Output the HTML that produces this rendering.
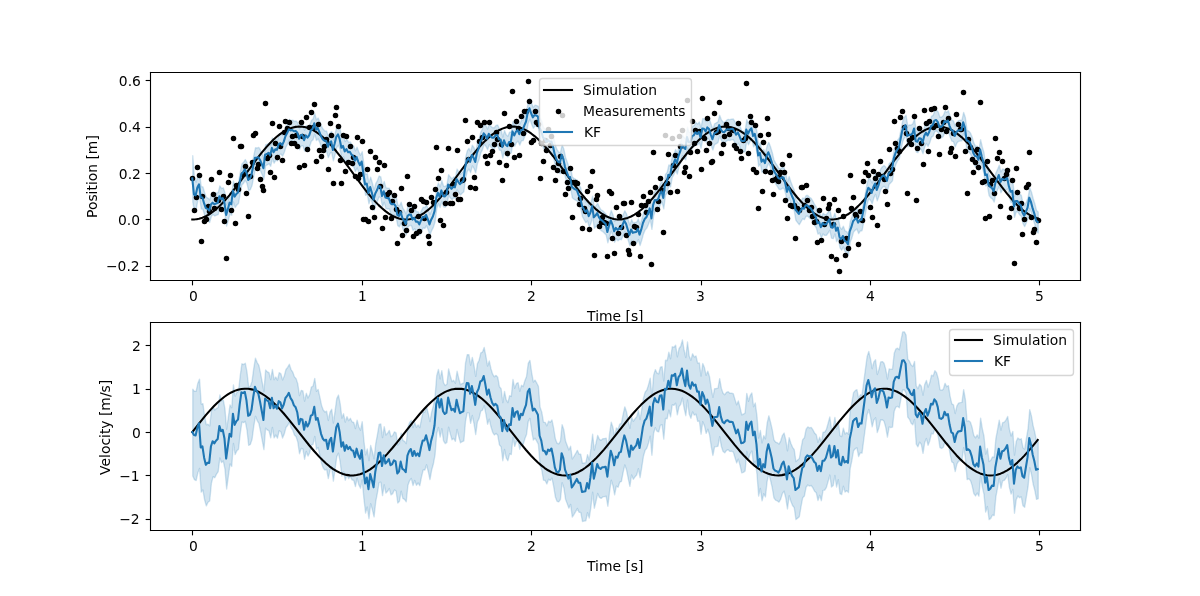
<!DOCTYPE html>
<html><head><meta charset="utf-8"><title>KF</title>
<style>html,body{margin:0;padding:0;background:#fff}svg{display:block;will-change:transform}</style></head>
<body>
<svg width="1200" height="596" viewBox="0 0 1200 596">
 
 <defs>
  <style type="text/css">*{stroke-linejoin: round; stroke-linecap: butt}</style>
 </defs>
 <g id="figure_1">
  <g id="patch_1">
   <path d="M 0 596 L 1200 596 L 1200 0 L 0 0 z
" style="fill: #ffffff"/>
  </g>
  <g id="axes_1">
   <g id="patch_2">
    <path d="M 150 280.12 L 1080 280.12 L 1080 71.52 L 150 71.52 z
" style="fill: #ffffff"/>
   </g>
   <g id="FillBetweenPolyCollection_1">
    
    <g clip-path="url(#pb499dece62)">
     <path d="M 192.27 -440.71 L 192.27 -394.28 L 193.96 -385.01 L 195.66 -386.96 L 197.35 -396.16 L 199.04 -400.08 L 200.74 -387.44 L 202.43 -387.27 L 204.13 -381.33 L 205.82 -376.69 L 207.52 -375.84 L 209.21 -374.07 L 210.91 -380.18 L 212.60 -382.02 L 214.29 -380.50 L 215.99 -381.33 L 217.68 -381.83 L 219.38 -388.68 L 221.07 -386.15 L 222.77 -387.01 L 224.46 -382.30 L 226.15 -370.32 L 227.85 -376.20 L 229.54 -382.75 L 231.24 -381.14 L 232.93 -394.56 L 234.63 -388.91 L 236.32 -391.50 L 238.01 -393.07 L 239.71 -402.92 L 241.40 -411.58 L 243.10 -413.31 L 244.79 -416.17 L 246.49 -413.07 L 248.18 -405.60 L 249.87 -407.05 L 251.57 -411.05 L 253.26 -419.94 L 254.96 -427.91 L 256.65 -427.76 L 258.35 -428.30 L 260.04 -425.57 L 261.73 -421.74 L 263.43 -417.37 L 265.12 -430.90 L 266.82 -431.58 L 268.51 -432.76 L 270.21 -430.23 L 271.90 -437.71 L 273.59 -433.33 L 275.29 -436.22 L 276.98 -435.77 L 278.68 -441.52 L 280.37 -442.52 L 282.07 -440.40 L 283.76 -444.02 L 285.45 -449.40 L 287.15 -452.48 L 288.84 -456.28 L 290.54 -455.23 L 292.23 -455.55 L 293.93 -454.33 L 295.62 -454.68 L 297.31 -452.81 L 299.01 -446.86 L 300.70 -450.45 L 302.40 -450.83 L 304.09 -445.34 L 305.79 -450.18 L 307.48 -447.92 L 309.17 -450.25 L 310.87 -455.27 L 312.56 -456.65 L 314.26 -462.31 L 315.95 -455.91 L 317.65 -457.64 L 319.34 -453.79 L 321.03 -449.25 L 322.73 -446.35 L 324.42 -444.77 L 326.12 -444.81 L 327.81 -438.86 L 329.51 -442.96 L 331.20 -444.21 L 332.89 -435.63 L 334.59 -441.87 L 336.28 -448.86 L 337.98 -451.23 L 339.67 -446.52 L 341.37 -437.80 L 343.06 -439.66 L 344.75 -434.10 L 346.45 -436.41 L 348.14 -433.31 L 349.84 -433.78 L 351.53 -430.90 L 353.23 -429.61 L 354.92 -424.85 L 356.61 -428.58 L 358.31 -423.74 L 360.00 -420.41 L 361.70 -424.04 L 363.39 -411.83 L 365.09 -401.18 L 366.78 -402.03 L 368.47 -392.59 L 370.17 -398.62 L 371.86 -392.73 L 373.56 -385.82 L 375.25 -392.03 L 376.95 -395.24 L 378.64 -399.64 L 380.33 -398.79 L 382.03 -389.60 L 383.72 -394.27 L 385.42 -388.05 L 387.11 -387.46 L 388.81 -387.50 L 390.50 -382.30 L 392.19 -381.26 L 393.89 -381.74 L 395.58 -379.59 L 397.28 -370.82 L 398.97 -369.70 L 400.67 -373.58 L 402.36 -367.64 L 404.05 -365.08 L 405.75 -361.65 L 407.44 -369.45 L 409.14 -370.94 L 410.83 -371.16 L 412.53 -366.01 L 414.22 -367.79 L 415.92 -363.91 L 417.61 -364.03 L 419.30 -361.29 L 421.00 -365.28 L 422.69 -368.58 L 424.39 -368.10 L 426.08 -370.78 L 427.78 -366.48 L 429.47 -361.18 L 431.16 -365.90 L 432.86 -369.13 L 434.55 -374.50 L 436.25 -387.67 L 437.94 -392.79 L 439.64 -388.88 L 441.33 -395.19 L 443.02 -389.67 L 444.72 -389.14 L 446.41 -390.86 L 448.11 -401.01 L 449.80 -398.78 L 451.50 -396.78 L 453.19 -398.77 L 454.88 -398.26 L 456.58 -406.52 L 458.27 -403.82 L 459.97 -401.51 L 461.66 -403.16 L 463.36 -404.72 L 465.05 -417.75 L 466.74 -424.92 L 468.44 -427.45 L 470.13 -423.80 L 471.83 -430.50 L 473.52 -428.04 L 475.22 -423.60 L 476.91 -432.72 L 478.60 -436.91 L 480.30 -443.59 L 481.99 -446.82 L 483.69 -452.30 L 485.38 -450.20 L 487.08 -446.70 L 488.77 -451.76 L 490.46 -449.40 L 492.16 -447.99 L 493.85 -447.97 L 495.55 -450.28 L 497.24 -450.67 L 498.94 -446.34 L 500.63 -446.04 L 502.32 -438.52 L 504.02 -445.29 L 505.71 -440.92 L 507.41 -439.47 L 509.10 -443.63 L 510.80 -443.60 L 512.49 -454.17 L 514.18 -450.15 L 515.88 -453.77 L 517.57 -455.39 L 519.27 -451.38 L 520.96 -455.59 L 522.66 -455.84 L 524.35 -460.23 L 526.04 -464.05 L 527.74 -473.34 L 529.43 -477.27 L 531.13 -472.36 L 532.82 -468.27 L 534.52 -470.55 L 536.21 -470.10 L 537.90 -469.23 L 539.60 -457.57 L 541.29 -454.41 L 542.99 -448.00 L 544.68 -446.82 L 546.38 -443.71 L 548.07 -445.37 L 549.76 -443.73 L 551.46 -444.14 L 553.15 -438.30 L 554.85 -430.62 L 556.54 -426.06 L 558.24 -423.61 L 559.93 -423.01 L 561.62 -430.93 L 563.32 -426.80 L 565.01 -418.56 L 566.71 -413.86 L 568.40 -408.90 L 570.10 -408.67 L 571.79 -398.79 L 573.48 -397.35 L 575.18 -396.29 L 576.87 -395.47 L 578.57 -390.66 L 580.26 -387.89 L 581.96 -379.74 L 583.65 -376.75 L 585.34 -373.76 L 587.04 -375.45 L 588.73 -369.47 L 590.43 -373.12 L 592.12 -379.49 L 593.82 -368.30 L 595.51 -369.99 L 597.20 -372.51 L 598.90 -368.48 L 600.59 -365.95 L 602.29 -364.89 L 603.98 -363.13 L 605.68 -361.50 L 607.37 -353.68 L 609.06 -360.02 L 610.76 -365.25 L 612.45 -361.01 L 614.15 -354.27 L 615.84 -357.70 L 617.54 -355.67 L 619.23 -357.33 L 620.93 -356.74 L 622.62 -361.05 L 624.31 -364.96 L 626.01 -361.88 L 627.70 -356.26 L 629.40 -350.60 L 631.09 -356.09 L 632.79 -352.77 L 634.48 -353.30 L 636.17 -353.63 L 637.87 -356.74 L 639.56 -350.99 L 641.26 -356.18 L 642.95 -362.61 L 644.65 -366.52 L 646.34 -368.38 L 648.03 -372.19 L 649.73 -377.23 L 651.42 -367.16 L 653.12 -380.69 L 654.81 -385.55 L 656.51 -385.25 L 658.20 -386.49 L 659.89 -392.00 L 661.59 -394.29 L 663.28 -387.68 L 664.98 -401.30 L 666.67 -403.41 L 668.37 -410.80 L 670.06 -409.57 L 671.75 -419.14 L 673.45 -421.95 L 675.14 -426.14 L 676.84 -422.35 L 678.53 -429.78 L 680.23 -434.10 L 681.92 -440.95 L 683.61 -438.16 L 685.31 -436.61 L 687.00 -448.44 L 688.70 -443.33 L 690.39 -443.35 L 692.09 -449.50 L 693.78 -450.24 L 695.47 -453.31 L 697.17 -451.60 L 698.86 -453.84 L 700.56 -448.15 L 702.25 -457.14 L 703.95 -456.88 L 705.64 -454.16 L 707.33 -458.16 L 709.03 -456.52 L 710.72 -451.10 L 712.42 -446.41 L 714.11 -451.92 L 715.81 -452.87 L 717.50 -453.88 L 719.19 -460.43 L 720.89 -455.89 L 722.58 -453.74 L 724.28 -453.44 L 725.97 -455.37 L 727.67 -456.37 L 729.36 -456.01 L 731.05 -456.63 L 732.75 -456.83 L 734.44 -454.01 L 736.14 -450.94 L 737.83 -453.16 L 739.53 -449.49 L 741.22 -444.85 L 742.91 -444.53 L 744.61 -444.78 L 746.30 -456.01 L 748.00 -451.76 L 749.69 -455.40 L 751.39 -457.33 L 753.08 -449.64 L 754.77 -451.68 L 756.47 -444.01 L 758.16 -430.08 L 759.86 -432.80 L 761.55 -423.90 L 763.25 -426.12 L 764.94 -422.49 L 766.63 -429.93 L 768.33 -433.35 L 770.02 -428.87 L 771.72 -423.47 L 773.41 -415.94 L 775.11 -412.61 L 776.80 -410.13 L 778.49 -407.27 L 780.19 -406.88 L 781.88 -408.20 L 783.58 -407.96 L 785.27 -402.23 L 786.97 -393.77 L 788.66 -399.13 L 790.35 -393.98 L 792.05 -389.37 L 793.74 -385.69 L 795.44 -376.08 L 797.13 -373.84 L 798.83 -371.71 L 800.52 -374.82 L 802.21 -377.73 L 803.91 -376.85 L 805.60 -380.22 L 807.30 -380.20 L 808.99 -378.34 L 810.69 -377.34 L 812.38 -374.67 L 814.07 -371.24 L 815.77 -368.73 L 817.46 -362.44 L 819.16 -363.47 L 820.85 -358.42 L 822.55 -362.55 L 824.24 -361.11 L 825.94 -361.26 L 827.63 -363.51 L 829.32 -366.21 L 831.02 -358.31 L 832.71 -357.83 L 834.41 -362.59 L 836.10 -354.88 L 837.80 -358.00 L 839.49 -348.60 L 841.18 -346.34 L 842.88 -349.57 L 844.57 -344.78 L 846.27 -344.01 L 847.96 -341.39 L 849.66 -353.97 L 851.35 -358.38 L 853.04 -364.39 L 854.74 -366.22 L 856.43 -367.47 L 858.13 -362.95 L 859.82 -365.45 L 861.52 -365.78 L 863.21 -373.94 L 864.90 -382.70 L 866.60 -392.16 L 868.29 -397.82 L 869.99 -396.23 L 871.68 -392.66 L 873.38 -398.58 L 875.07 -402.13 L 876.76 -395.63 L 878.46 -400.14 L 880.15 -406.55 L 881.85 -408.94 L 883.54 -410.20 L 885.24 -408.71 L 886.93 -404.74 L 888.62 -412.08 L 890.32 -413.68 L 892.01 -415.74 L 893.71 -427.01 L 895.40 -432.27 L 897.10 -435.63 L 898.79 -437.72 L 900.48 -446.17 L 902.18 -454.66 L 903.87 -458.53 L 905.57 -460.41 L 907.26 -449.69 L 908.96 -450.77 L 910.65 -450.71 L 912.34 -451.87 L 914.04 -457.00 L 915.73 -444.49 L 917.43 -443.80 L 919.12 -447.30 L 920.82 -447.11 L 922.51 -442.66 L 924.20 -449.55 L 925.90 -452.95 L 927.59 -450.18 L 929.29 -453.80 L 930.98 -459.35 L 932.68 -460.40 L 934.37 -464.97 L 936.06 -465.52 L 937.76 -463.69 L 939.45 -458.42 L 941.15 -458.71 L 942.84 -460.15 L 944.54 -464.46 L 946.23 -463.44 L 947.92 -465.02 L 949.62 -459.58 L 951.31 -455.45 L 953.01 -454.77 L 954.70 -449.58 L 956.40 -453.56 L 958.09 -455.15 L 959.78 -455.42 L 961.48 -455.65 L 963.17 -463.37 L 964.87 -458.19 L 966.56 -445.21 L 968.26 -444.72 L 969.95 -442.83 L 971.64 -438.69 L 973.34 -432.62 L 975.03 -429.52 L 976.73 -429.42 L 978.42 -425.86 L 980.12 -436.00 L 981.81 -428.83 L 983.50 -422.96 L 985.20 -410.54 L 986.89 -411.20 L 988.59 -400.96 L 990.28 -398.62 L 991.98 -397.56 L 993.67 -394.38 L 995.36 -402.73 L 997.06 -406.29 L 998.75 -410.58 L 1000.45 -403.72 L 1002.14 -406.72 L 1003.84 -406.05 L 1005.53 -406.39 L 1007.22 -407.54 L 1008.92 -399.18 L 1010.61 -393.80 L 1012.31 -394.81 L 1014.00 -379.07 L 1015.70 -384.51 L 1017.39 -384.64 L 1019.08 -381.78 L 1020.78 -380.34 L 1022.47 -373.12 L 1024.17 -369.86 L 1025.86 -373.68 L 1027.56 -377.86 L 1029.25 -387.93 L 1030.95 -383.71 L 1032.64 -377.17 L 1034.33 -372.04 L 1036.03 -365.18 L 1037.72 -363.59 L 1037.72 -384.38 L 1037.72 -384.38 L 1036.03 -385.97 L 1034.33 -392.83 L 1032.64 -397.96 L 1030.95 -404.50 L 1029.25 -408.72 L 1027.56 -398.65 L 1025.86 -394.46 L 1024.17 -390.65 L 1022.47 -393.91 L 1020.78 -401.13 L 1019.08 -402.56 L 1017.39 -405.42 L 1015.70 -405.30 L 1014.00 -399.86 L 1012.31 -415.60 L 1010.61 -414.58 L 1008.92 -419.97 L 1007.22 -428.33 L 1005.53 -427.18 L 1003.84 -426.84 L 1002.14 -427.51 L 1000.45 -424.51 L 998.75 -431.37 L 997.06 -427.08 L 995.36 -423.52 L 993.67 -415.16 L 991.98 -418.35 L 990.28 -419.41 L 988.59 -421.75 L 986.89 -431.99 L 985.20 -431.33 L 983.50 -443.75 L 981.81 -449.61 L 980.12 -456.79 L 978.42 -446.64 L 976.73 -450.21 L 975.03 -450.31 L 973.34 -453.40 L 971.64 -459.48 L 969.95 -463.61 L 968.26 -465.51 L 966.56 -466.00 L 964.87 -478.97 L 963.17 -484.16 L 961.48 -476.44 L 959.78 -476.21 L 958.09 -475.94 L 956.40 -474.34 L 954.70 -470.36 L 953.01 -475.56 L 951.31 -476.24 L 949.62 -480.37 L 947.92 -485.81 L 946.23 -484.23 L 944.54 -485.24 L 942.84 -480.94 L 941.15 -479.49 L 939.45 -479.21 L 937.76 -484.48 L 936.06 -486.31 L 934.37 -485.76 L 932.68 -481.19 L 930.98 -480.14 L 929.29 -474.58 L 927.59 -470.97 L 925.90 -473.74 L 924.20 -470.34 L 922.51 -463.45 L 920.82 -467.90 L 919.12 -468.09 L 917.43 -464.59 L 915.73 -465.27 L 914.04 -477.79 L 912.34 -472.66 L 910.65 -471.50 L 908.96 -471.56 L 907.26 -470.47 L 905.57 -481.20 L 903.87 -479.32 L 902.18 -475.44 L 900.48 -466.95 L 898.79 -458.51 L 897.10 -456.42 L 895.40 -453.06 L 893.71 -447.80 L 892.01 -436.53 L 890.32 -434.46 L 888.62 -432.87 L 886.93 -425.53 L 885.24 -429.50 L 883.54 -430.99 L 881.85 -429.73 L 880.15 -427.33 L 878.46 -420.92 L 876.76 -416.42 L 875.07 -422.92 L 873.38 -419.37 L 871.68 -413.45 L 869.99 -417.02 L 868.29 -418.61 L 866.60 -412.95 L 864.90 -403.49 L 863.21 -394.73 L 861.52 -386.57 L 859.82 -386.24 L 858.13 -383.73 L 856.43 -388.26 L 854.74 -387.01 L 853.04 -385.17 L 851.35 -379.17 L 849.66 -374.76 L 847.96 -362.18 L 846.27 -364.80 L 844.57 -365.57 L 842.88 -370.36 L 841.18 -367.13 L 839.49 -369.39 L 837.80 -378.78 L 836.10 -375.67 L 834.41 -383.38 L 832.71 -378.62 L 831.02 -379.10 L 829.32 -387.00 L 827.63 -384.29 L 825.94 -382.05 L 824.24 -381.90 L 822.55 -383.34 L 820.85 -379.21 L 819.16 -384.25 L 817.46 -383.23 L 815.77 -389.52 L 814.07 -392.03 L 812.38 -395.46 L 810.69 -398.13 L 808.99 -399.13 L 807.30 -400.99 L 805.60 -401.00 L 803.91 -397.64 L 802.21 -398.52 L 800.52 -395.60 L 798.83 -392.50 L 797.13 -394.63 L 795.44 -396.87 L 793.74 -406.47 L 792.05 -410.16 L 790.35 -414.77 L 788.66 -419.92 L 786.97 -414.56 L 785.27 -423.02 L 783.58 -428.75 L 781.88 -428.99 L 780.19 -427.67 L 778.49 -428.06 L 776.80 -430.92 L 775.11 -433.40 L 773.41 -436.73 L 771.72 -444.26 L 770.02 -449.66 L 768.33 -454.13 L 766.63 -450.72 L 764.94 -443.28 L 763.25 -446.91 L 761.55 -444.69 L 759.86 -453.59 L 758.16 -450.87 L 756.47 -464.80 L 754.77 -472.47 L 753.08 -470.43 L 751.39 -478.12 L 749.69 -476.19 L 748.00 -472.55 L 746.30 -476.80 L 744.61 -465.57 L 742.91 -465.32 L 741.22 -465.64 L 739.53 -470.28 L 737.83 -473.95 L 736.14 -471.73 L 734.44 -474.80 L 732.75 -477.62 L 731.05 -477.42 L 729.36 -476.80 L 727.67 -477.16 L 725.97 -476.16 L 724.28 -474.23 L 722.58 -474.53 L 720.89 -476.68 L 719.19 -481.22 L 717.50 -474.67 L 715.81 -473.66 L 714.11 -472.71 L 712.42 -467.20 L 710.72 -471.89 L 709.03 -477.30 L 707.33 -478.95 L 705.64 -474.95 L 703.95 -477.67 L 702.25 -477.93 L 700.56 -468.94 L 698.86 -474.62 L 697.17 -472.38 L 695.47 -474.10 L 693.78 -471.03 L 692.09 -470.29 L 690.39 -464.14 L 688.70 -464.12 L 687.00 -469.23 L 685.31 -457.40 L 683.61 -458.95 L 681.92 -461.74 L 680.23 -454.89 L 678.53 -450.57 L 676.84 -443.14 L 675.14 -446.93 L 673.45 -442.74 L 671.75 -439.93 L 670.06 -430.36 L 668.37 -431.59 L 666.67 -424.19 L 664.98 -422.09 L 663.28 -408.47 L 661.59 -415.08 L 659.89 -412.79 L 658.20 -407.28 L 656.51 -406.04 L 654.81 -406.34 L 653.12 -401.47 L 651.42 -387.95 L 649.73 -398.02 L 648.03 -392.98 L 646.34 -389.16 L 644.65 -387.31 L 642.95 -383.40 L 641.26 -376.97 L 639.56 -371.78 L 637.87 -377.53 L 636.17 -374.42 L 634.48 -374.09 L 632.79 -373.56 L 631.09 -376.88 L 629.40 -371.38 L 627.70 -377.05 L 626.01 -382.67 L 624.31 -385.75 L 622.62 -381.84 L 620.93 -377.53 L 619.23 -378.12 L 617.54 -376.46 L 615.84 -378.48 L 614.15 -375.06 L 612.45 -381.80 L 610.76 -386.03 L 609.06 -380.80 L 607.37 -374.46 L 605.68 -382.28 L 603.98 -383.92 L 602.29 -385.68 L 600.59 -386.74 L 598.90 -389.27 L 597.20 -393.30 L 595.51 -390.78 L 593.82 -389.09 L 592.12 -400.28 L 590.43 -393.91 L 588.73 -390.26 L 587.04 -396.24 L 585.34 -394.54 L 583.65 -397.54 L 581.96 -400.52 L 580.26 -408.68 L 578.57 -411.45 L 576.87 -416.26 L 575.18 -417.07 L 573.48 -418.13 L 571.79 -419.57 L 570.10 -429.46 L 568.40 -429.69 L 566.71 -434.65 L 565.01 -439.35 L 563.32 -447.58 L 561.62 -451.72 L 559.93 -443.80 L 558.24 -444.40 L 556.54 -446.85 L 554.85 -451.41 L 553.15 -459.09 L 551.46 -464.93 L 549.76 -464.52 L 548.07 -466.16 L 546.38 -464.50 L 544.68 -467.61 L 542.99 -468.79 L 541.29 -475.20 L 539.60 -478.36 L 537.90 -490.02 L 536.21 -490.88 L 534.52 -491.34 L 532.82 -489.06 L 531.13 -493.15 L 529.43 -498.06 L 527.74 -494.13 L 526.04 -484.84 L 524.35 -481.01 L 522.66 -476.62 L 520.96 -476.37 L 519.27 -472.17 L 517.57 -476.18 L 515.88 -474.56 L 514.18 -470.93 L 512.49 -474.96 L 510.80 -464.38 L 509.10 -464.41 L 507.41 -460.26 L 505.71 -461.71 L 504.02 -466.08 L 502.32 -459.30 L 500.63 -466.83 L 498.94 -467.13 L 497.24 -471.45 L 495.55 -471.07 L 493.85 -468.76 L 492.16 -468.78 L 490.46 -470.19 L 488.77 -472.55 L 487.08 -467.48 L 485.38 -470.98 L 483.69 -473.09 L 481.99 -467.61 L 480.30 -464.38 L 478.60 -457.70 L 476.91 -453.51 L 475.22 -444.39 L 473.52 -448.83 L 471.83 -451.29 L 470.13 -444.58 L 468.44 -448.24 L 466.74 -445.71 L 465.05 -438.54 L 463.36 -425.51 L 461.66 -423.95 L 459.97 -422.30 L 458.27 -424.61 L 456.58 -427.30 L 454.88 -419.05 L 453.19 -419.56 L 451.50 -417.57 L 449.80 -419.57 L 448.11 -421.80 L 446.41 -411.64 L 444.72 -409.93 L 443.02 -410.46 L 441.33 -415.98 L 439.64 -409.67 L 437.94 -413.58 L 436.25 -408.46 L 434.55 -395.28 L 432.86 -389.92 L 431.16 -386.69 L 429.47 -381.97 L 427.78 -387.27 L 426.08 -391.57 L 424.39 -388.89 L 422.69 -389.37 L 421.00 -386.06 L 419.30 -382.08 L 417.61 -384.82 L 415.92 -384.70 L 414.22 -388.58 L 412.53 -386.80 L 410.83 -391.94 L 409.14 -391.73 L 407.44 -390.23 L 405.75 -382.44 L 404.05 -385.87 L 402.36 -388.43 L 400.67 -394.37 L 398.97 -390.49 L 397.28 -391.61 L 395.58 -400.37 L 393.89 -402.52 L 392.19 -402.04 L 390.50 -403.09 L 388.81 -408.28 L 387.11 -408.25 L 385.42 -408.84 L 383.72 -415.06 L 382.03 -410.38 L 380.33 -419.58 L 378.64 -420.43 L 376.95 -416.03 L 375.25 -412.82 L 373.56 -406.61 L 371.86 -413.52 L 370.17 -419.41 L 368.47 -413.37 L 366.78 -422.82 L 365.09 -421.96 L 363.39 -432.61 L 361.70 -444.83 L 360.00 -441.20 L 358.31 -444.53 L 356.61 -449.37 L 354.92 -445.64 L 353.23 -450.40 L 351.53 -451.69 L 349.84 -454.57 L 348.14 -454.10 L 346.45 -457.20 L 344.75 -454.89 L 343.06 -460.45 L 341.37 -458.59 L 339.67 -467.30 L 337.98 -472.01 L 336.28 -469.65 L 334.59 -462.66 L 332.89 -456.42 L 331.20 -465.00 L 329.51 -463.75 L 327.81 -459.65 L 326.12 -465.60 L 324.42 -465.56 L 322.73 -467.14 L 321.03 -470.04 L 319.34 -474.58 L 317.65 -478.43 L 315.95 -476.70 L 314.26 -483.10 L 312.56 -477.44 L 310.87 -476.06 L 309.17 -471.04 L 307.48 -468.71 L 305.79 -470.97 L 304.09 -466.13 L 302.40 -471.62 L 300.70 -471.24 L 299.01 -467.65 L 297.31 -473.60 L 295.62 -475.47 L 293.93 -475.12 L 292.23 -476.33 L 290.54 -476.02 L 288.84 -477.07 L 287.15 -473.27 L 285.45 -470.19 L 283.76 -464.80 L 282.07 -461.18 L 280.37 -463.31 L 278.68 -462.31 L 276.98 -456.56 L 275.29 -457.01 L 273.59 -454.12 L 271.90 -458.50 L 270.21 -451.02 L 268.51 -453.55 L 266.82 -452.37 L 265.12 -451.69 L 263.43 -438.16 L 261.73 -442.53 L 260.04 -446.36 L 258.35 -449.09 L 256.65 -448.55 L 254.96 -448.70 L 253.26 -440.73 L 251.57 -431.85 L 249.87 -427.85 L 248.18 -426.40 L 246.49 -433.89 L 244.79 -437.00 L 243.10 -434.15 L 241.40 -432.44 L 239.71 -423.80 L 238.01 -413.98 L 236.32 -412.45 L 234.63 -409.90 L 232.93 -415.61 L 231.24 -402.26 L 229.54 -403.95 L 227.85 -397.49 L 226.15 -391.72 L 224.46 -403.82 L 222.77 -408.66 L 221.07 -407.95 L 219.38 -410.63 L 217.68 -403.93 L 215.99 -403.57 L 214.29 -402.89 L 212.60 -404.51 L 210.91 -402.75 L 209.21 -396.66 L 207.52 -398.39 L 205.82 -399.15 L 204.13 -403.70 L 202.43 -409.60 L 200.74 -409.95 L 199.04 -423.22 L 197.35 -420.74 L 195.66 -414.37 L 193.96 -418.00 L 192.27 -440.71 z" transform="translate(0.5 596.5)" style="stroke: #1f77b4;stroke-opacity: 0.2;stroke-width: 1.38;fill: #1f77b4;fill-opacity: 0.2"/>
    </g>
   </g>
   <g id="matplotlib.axis_1">
    <g id="xtick_1">
     <g id="line2d_1">
      
      <g>
       <path d="M 0 0 L 0 4.86" transform="translate(192.5 280.5)" style="stroke: #000000;stroke-width: 1.11"/>
      </g>
     </g>
     <g id="text_1">
      <text style="font-size: 13.88px; font-family: 'DejaVu Sans', 'Liberation Sans', sans-serif; text-anchor: middle" x="192.27" y="300.84" transform="translate(1.20 0.09) rotate(-0 192.27 300.84)">0</text>
     </g>
    </g>
    <g id="xtick_2">
     <g id="line2d_2">
      <g>
       <path d="M 0 0 L 0 4.86" transform="translate(362.5 280.5)" style="stroke: #000000;stroke-width: 1.11"/>
      </g>
     </g>
     <g id="text_2">
      <text style="font-size: 13.88px; font-family: 'DejaVu Sans', 'Liberation Sans', sans-serif; text-anchor: middle" x="361.70" y="300.84" transform="translate(0.80 -0.01) rotate(-0 361.70 300.84)">1</text>
     </g>
    </g>
    <g id="xtick_3">
     <g id="line2d_3">
      <g>
       <path d="M 0 0 L 0 4.86" transform="translate(531.5 280.5)" style="stroke: #000000;stroke-width: 1.11"/>
      </g>
     </g>
     <g id="text_3">
      <text style="font-size: 13.88px; font-family: 'DejaVu Sans', 'Liberation Sans', sans-serif; text-anchor: middle" x="531.13" y="300.84" transform="translate(0.21 -0.01) rotate(-0 531.13 300.84)">2</text>
     </g>
    </g>
    <g id="xtick_4">
     <g id="line2d_4">
      <g>
       <path d="M 0 0 L 0 4.86" transform="translate(701.5 280.5)" style="stroke: #000000;stroke-width: 1.11"/>
      </g>
     </g>
     <g id="text_4">
      <text style="font-size: 13.88px; font-family: 'DejaVu Sans', 'Liberation Sans', sans-serif; text-anchor: middle" x="700.56" y="300.84" transform="translate(-0.18 -0.03) rotate(-0 700.56 300.84)">3</text>
     </g>
    </g>
    <g id="xtick_5">
     <g id="line2d_5">
      <g>
       <path d="M 0 0 L 0 4.86" transform="translate(870.5 280.5)" style="stroke: #000000;stroke-width: 1.11"/>
      </g>
     </g>
     <g id="text_5">
      <text style="font-size: 13.88px; font-family: 'DejaVu Sans', 'Liberation Sans', sans-serif; text-anchor: middle" x="869.99" y="300.84" transform="translate(0.50 -0.06) rotate(-0 869.99 300.84)">4</text>
     </g>
    </g>
    <g id="xtick_6">
     <g id="line2d_6">
      <g>
       <path d="M 0 0 L 0 4.86" transform="translate(1039.5 280.5)" style="stroke: #000000;stroke-width: 1.11"/>
      </g>
     </g>
     <g id="text_6">
      <text style="font-size: 13.88px; font-family: 'DejaVu Sans', 'Liberation Sans', sans-serif; text-anchor: middle" x="1039.42" y="300.84" transform="translate(-0.02 0.07) rotate(-0 1039.42 300.84)">5</text>
     </g>
    </g>
    <g id="text_7">
     <text style="font-size: 13.88px; font-family: 'DejaVu Sans', 'Liberation Sans', sans-serif; text-anchor: middle" x="615" y="320.39" transform="translate(0.32 0.75) rotate(-0 615 320.39)">Time [s]</text>
    </g>
   </g>
   <g id="matplotlib.axis_2">
    <g id="ytick_1">
     <g id="line2d_7">
      
      <g>
       <path d="M 0 0 L -4.86 0" transform="translate(150.5 266.5)" style="stroke: #000000;stroke-width: 1.11"/>
      </g>
     </g>
     <g id="text_8">
      <text style="font-size: 13.88px; font-family: 'DejaVu Sans', 'Liberation Sans', sans-serif; text-anchor: end" x="140.27" y="271.38" transform="translate(-0.64 0.04) rotate(-0 140.27 271.38)">−0.2</text>
     </g>
    </g>
    <g id="ytick_2">
     <g id="line2d_8">
      <g>
       <path d="M 0 0 L -4.86 0" transform="translate(150.5 219.5)" style="stroke: #000000;stroke-width: 1.11"/>
      </g>
     </g>
     <g id="text_9">
      <text style="font-size: 13.88px; font-family: 'DejaVu Sans', 'Liberation Sans', sans-serif; text-anchor: end" x="140.27" y="224.95" transform="translate(-0.27 0.09) rotate(-0 140.27 224.95)">0.0</text>
     </g>
    </g>
    <g id="ytick_3">
     <g id="line2d_9">
      <g>
       <path d="M 0 0 L -4.86 0" transform="translate(150.5 173.5)" style="stroke: #000000;stroke-width: 1.11"/>
      </g>
     </g>
     <g id="text_10">
      <text style="font-size: 13.88px; font-family: 'DejaVu Sans', 'Liberation Sans', sans-serif; text-anchor: end" x="140.27" y="178.52" transform="translate(0.65 0.05) rotate(-0 140.27 178.52)">0.2</text>
     </g>
    </g>
    <g id="ytick_4">
     <g id="line2d_10">
      <g>
       <path d="M 0 0 L -4.86 0" transform="translate(150.5 127.5)" style="stroke: #000000;stroke-width: 1.11"/>
      </g>
     </g>
     <g id="text_11">
      <text style="font-size: 13.88px; font-family: 'DejaVu Sans', 'Liberation Sans', sans-serif; text-anchor: end" x="140.27" y="132.08" transform="translate(0.68 0.02) rotate(-0 140.27 132.08)">0.4</text>
     </g>
    </g>
    <g id="ytick_5">
     <g id="line2d_11">
      <g>
       <path d="M 0 0 L -4.86 0" transform="translate(150.5 80.5)" style="stroke: #000000;stroke-width: 1.11"/>
      </g>
     </g>
     <g id="text_12">
      <text style="font-size: 13.88px; font-family: 'DejaVu Sans', 'Liberation Sans', sans-serif; text-anchor: end" x="140.27" y="85.65" transform="translate(0.61 0.10) rotate(-0 140.27 85.65)">0.6</text>
     </g>
    </g>
    <g id="text_13">
     <text style="font-size: 13.88px; font-family: 'DejaVu Sans', 'Liberation Sans', sans-serif; text-anchor: middle" x="98.22" y="175.82" transform="translate(-0.95 0.77) rotate(-90 98.22 175.82)">Position [m]</text>
    </g>
   </g>
   <g id="line2d_12">
    <path d="M 192.27 219.45 L 193.96 219.45 L 195.66 219.33 L 197.35 219.10 L 199.04 218.75 L 202.43 217.72 L 205.82 216.24 L 209.21 214.32 L 212.60 211.99 L 215.99 209.28 L 219.38 206.20 L 222.77 202.79 L 226.15 199.08 L 229.54 195.11 L 234.63 188.75 L 241.40 179.76 L 256.65 159.10 L 261.73 152.63 L 266.82 146.62 L 270.21 142.94 L 273.59 139.55 L 276.98 136.51 L 280.37 133.82 L 283.76 131.53 L 287.15 129.65 L 290.54 128.21 L 293.93 127.21 L 295.62 126.88 L 297.31 126.67 L 299.01 126.58 L 300.70 126.60 L 302.40 126.73 L 304.09 126.98 L 305.79 127.35 L 309.17 128.43 L 312.56 129.95 L 315.95 131.90 L 319.34 134.26 L 322.73 137.01 L 326.12 140.12 L 329.51 143.56 L 332.89 147.29 L 336.28 151.28 L 341.37 157.66 L 348.14 166.68 L 363.39 187.32 L 368.47 193.77 L 371.86 197.81 L 375.25 201.61 L 378.64 205.12 L 382.03 208.31 L 385.42 211.15 L 388.81 213.61 L 392.19 215.66 L 395.58 217.28 L 398.97 218.47 L 400.67 218.89 L 402.36 219.20 L 404.05 219.39 L 405.75 219.46 L 407.44 219.42 L 409.14 219.27 L 410.83 218.99 L 414.22 218.10 L 417.61 216.77 L 421.00 214.99 L 424.39 212.79 L 427.78 210.20 L 431.16 207.24 L 434.55 203.93 L 437.94 200.31 L 441.33 196.43 L 446.41 190.17 L 451.50 183.52 L 459.97 172.00 L 468.44 160.54 L 473.52 154.00 L 478.60 147.88 L 481.99 144.10 L 485.38 140.62 L 488.77 137.46 L 492.16 134.65 L 495.55 132.23 L 498.94 130.22 L 502.32 128.63 L 505.71 127.48 L 507.41 127.08 L 509.10 126.80 L 510.80 126.63 L 512.49 126.57 L 514.18 126.63 L 515.88 126.81 L 517.57 127.10 L 520.96 128.03 L 524.35 129.41 L 527.74 131.22 L 531.13 133.45 L 534.52 136.08 L 537.90 139.07 L 541.29 142.41 L 544.68 146.05 L 548.07 149.96 L 553.15 156.24 L 558.24 162.91 L 568.40 176.76 L 575.18 185.88 L 580.26 192.41 L 585.34 198.50 L 588.73 202.25 L 592.12 205.70 L 595.51 208.83 L 598.90 211.61 L 602.29 214.00 L 605.68 215.97 L 609.06 217.52 L 612.45 218.63 L 614.15 219.01 L 615.84 219.28 L 617.54 219.43 L 619.23 219.46 L 620.93 219.38 L 622.62 219.18 L 624.31 218.87 L 627.70 217.90 L 631.09 216.49 L 634.48 214.64 L 637.87 212.37 L 641.26 209.71 L 644.65 206.68 L 648.03 203.32 L 651.42 199.65 L 654.81 195.72 L 659.89 189.41 L 664.98 182.73 L 675.14 168.87 L 681.92 159.76 L 687.00 153.26 L 692.09 147.20 L 695.47 143.47 L 698.86 140.04 L 702.25 136.94 L 705.64 134.20 L 709.03 131.85 L 712.42 129.91 L 715.81 128.40 L 719.19 127.33 L 720.89 126.97 L 722.58 126.72 L 724.28 126.59 L 725.97 126.58 L 727.67 126.68 L 729.36 126.90 L 731.05 127.23 L 734.44 128.24 L 737.83 129.69 L 741.22 131.58 L 744.61 133.88 L 748.00 136.57 L 751.39 139.63 L 754.77 143.02 L 758.16 146.71 L 761.55 150.67 L 766.63 157.00 L 771.72 163.70 L 792.05 191.02 L 797.13 197.22 L 800.52 201.06 L 803.91 204.61 L 807.30 207.85 L 810.69 210.75 L 814.07 213.26 L 817.46 215.38 L 820.85 217.07 L 824.24 218.32 L 827.63 219.11 L 829.32 219.34 L 831.02 219.45 L 832.71 219.45 L 834.41 219.32 L 836.10 219.09 L 837.80 218.73 L 841.18 217.69 L 844.57 216.19 L 847.96 214.27 L 851.35 211.93 L 854.74 209.21 L 858.13 206.12 L 861.52 202.70 L 864.90 198.98 L 868.29 195.01 L 873.38 188.65 L 880.15 179.65 L 895.40 158.99 L 900.48 152.53 L 905.57 146.53 L 908.96 142.85 L 912.34 139.48 L 915.73 136.44 L 919.12 133.76 L 922.51 131.48 L 925.90 129.61 L 929.29 128.18 L 932.68 127.19 L 934.37 126.87 L 936.06 126.66 L 937.76 126.57 L 939.45 126.60 L 941.15 126.74 L 942.84 127.00 L 944.54 127.37 L 947.92 128.46 L 951.31 129.99 L 954.70 131.95 L 958.09 134.32 L 961.48 137.08 L 964.87 140.20 L 968.26 143.65 L 971.64 147.39 L 975.03 151.38 L 980.12 157.77 L 986.89 166.79 L 1002.14 187.43 L 1007.22 193.87 L 1010.61 197.91 L 1014.00 201.70 L 1017.39 205.20 L 1020.78 208.39 L 1024.17 211.21 L 1027.56 213.66 L 1030.95 215.70 L 1034.33 217.32 L 1037.72 218.49 L 1037.72 218.49 
" clip-path="url(#pb499dece62)" style="fill: none; stroke: #000000; stroke-width: 2.08; stroke-linecap: square"/>
   </g>
   <g id="line2d_13">
    
    <g clip-path="url(#pb499dece62)">
     <circle cx="192.5" cy="178.5" r="2.75"/>
     <circle cx="194.5" cy="210.5" r="2.75"/>
     <circle cx="196.5" cy="197.5" r="2.75"/>
     <circle cx="197.5" cy="167.5" r="2.75"/>
     <circle cx="199.5" cy="175.5" r="2.75"/>
     <circle cx="201.5" cy="241.5" r="2.75"/>
     <circle cx="202.5" cy="196.5" r="2.75"/>
     <circle cx="204.5" cy="221.5" r="2.75"/>
     <circle cx="206.5" cy="219.5" r="2.75"/>
     <circle cx="208.5" cy="206.5" r="2.75"/>
     <circle cx="209.5" cy="211.5" r="2.75"/>
     <circle cx="211.5" cy="179.5" r="2.75"/>
     <circle cx="213.5" cy="194.5" r="2.75"/>
     <circle cx="214.5" cy="208.5" r="2.75"/>
     <circle cx="216.5" cy="199.5" r="2.75"/>
     <circle cx="218.5" cy="200.5" r="2.75"/>
     <circle cx="219.5" cy="172.5" r="2.75"/>
     <circle cx="221.5" cy="209.5" r="2.75"/>
     <circle cx="223.5" cy="196.5" r="2.75"/>
     <circle cx="224.5" cy="221.5" r="2.75"/>
     <circle cx="226.5" cy="258.5" r="2.75"/>
     <circle cx="228.5" cy="182.5" r="2.75"/>
     <circle cx="230.5" cy="175.5" r="2.75"/>
     <circle cx="231.5" cy="210.5" r="2.75"/>
     <circle cx="233.5" cy="138.5" r="2.75"/>
     <circle cx="235.5" cy="223.5" r="2.75"/>
     <circle cx="236.5" cy="185.5" r="2.75"/>
     <circle cx="238.5" cy="189.5" r="2.75"/>
     <circle cx="240.5" cy="146.5" r="2.75"/>
     <circle cx="241.5" cy="146.5" r="2.75"/>
     <circle cx="243.5" cy="174.5" r="2.75"/>
     <circle cx="245.5" cy="166.5" r="2.75"/>
     <circle cx="246.5" cy="193.5" r="2.75"/>
     <circle cx="248.5" cy="216.5" r="2.75"/>
     <circle cx="250.5" cy="176.5" r="2.75"/>
     <circle cx="252.5" cy="162.5" r="2.75"/>
     <circle cx="253.5" cy="135.5" r="2.75"/>
     <circle cx="255.5" cy="133.5" r="2.75"/>
     <circle cx="257.5" cy="168.5" r="2.75"/>
     <circle cx="258.5" cy="164.5" r="2.75"/>
     <circle cx="260.5" cy="179.5" r="2.75"/>
     <circle cx="262.5" cy="186.5" r="2.75"/>
     <circle cx="263.5" cy="190.5" r="2.75"/>
     <circle cx="265.5" cy="103.5" r="2.75"/>
     <circle cx="267.5" cy="158.5" r="2.75"/>
     <circle cx="269.5" cy="155.5" r="2.75"/>
     <circle cx="270.5" cy="172.5" r="2.75"/>
     <circle cx="272.5" cy="123.5" r="2.75"/>
     <circle cx="274.5" cy="177.5" r="2.75"/>
     <circle cx="275.5" cy="143.5" r="2.75"/>
     <circle cx="277.5" cy="157.5" r="2.75"/>
     <circle cx="279.5" cy="126.5" r="2.75"/>
     <circle cx="280.5" cy="146.5" r="2.75"/>
     <circle cx="282.5" cy="160.5" r="2.75"/>
     <circle cx="284.5" cy="132.5" r="2.75"/>
     <circle cx="285.5" cy="121.5" r="2.75"/>
     <circle cx="287.5" cy="128.5" r="2.75"/>
     <circle cx="289.5" cy="122.5" r="2.75"/>
     <circle cx="291.5" cy="143.5" r="2.75"/>
     <circle cx="292.5" cy="136.5" r="2.75"/>
     <circle cx="294.5" cy="143.5" r="2.75"/>
     <circle cx="296.5" cy="135.5" r="2.75"/>
     <circle cx="297.5" cy="146.5" r="2.75"/>
     <circle cx="299.5" cy="167.5" r="2.75"/>
     <circle cx="301.5" cy="122.5" r="2.75"/>
     <circle cx="302.5" cy="136.5" r="2.75"/>
     <circle cx="304.5" cy="165.5" r="2.75"/>
     <circle cx="306.5" cy="117.5" r="2.75"/>
     <circle cx="307.5" cy="149.5" r="2.75"/>
     <circle cx="309.5" cy="127.5" r="2.75"/>
     <circle cx="311.5" cy="112.5" r="2.75"/>
     <circle cx="313.5" cy="127.5" r="2.75"/>
     <circle cx="314.5" cy="104.5" r="2.75"/>
     <circle cx="316.5" cy="161.5" r="2.75"/>
     <circle cx="318.5" cy="124.5" r="2.75"/>
     <circle cx="319.5" cy="150.5" r="2.75"/>
     <circle cx="321.5" cy="156.5" r="2.75"/>
     <circle cx="323.5" cy="150.5" r="2.75"/>
     <circle cx="324.5" cy="146.5" r="2.75"/>
     <circle cx="326.5" cy="139.5" r="2.75"/>
     <circle cx="328.5" cy="169.5" r="2.75"/>
     <circle cx="330.5" cy="123.5" r="2.75"/>
     <circle cx="331.5" cy="135.5" r="2.75"/>
     <circle cx="333.5" cy="183.5" r="2.75"/>
     <circle cx="335.5" cy="115.5" r="2.75"/>
     <circle cx="336.5" cy="107.5" r="2.75"/>
     <circle cx="338.5" cy="126.5" r="2.75"/>
     <circle cx="340.5" cy="160.5" r="2.75"/>
     <circle cx="341.5" cy="183.5" r="2.75"/>
     <circle cx="343.5" cy="135.5" r="2.75"/>
     <circle cx="345.5" cy="171.5" r="2.75"/>
     <circle cx="346.5" cy="136.5" r="2.75"/>
     <circle cx="348.5" cy="162.5" r="2.75"/>
     <circle cx="350.5" cy="146.5" r="2.75"/>
     <circle cx="352.5" cy="163.5" r="2.75"/>
     <circle cx="353.5" cy="157.5" r="2.75"/>
     <circle cx="355.5" cy="176.5" r="2.75"/>
     <circle cx="357.5" cy="137.5" r="2.75"/>
     <circle cx="358.5" cy="178.5" r="2.75"/>
     <circle cx="360.5" cy="174.5" r="2.75"/>
     <circle cx="362.5" cy="141.5" r="2.75"/>
     <circle cx="363.5" cy="219.5" r="2.75"/>
     <circle cx="365.5" cy="219.5" r="2.75"/>
     <circle cx="367.5" cy="169.5" r="2.75"/>
     <circle cx="368.5" cy="221.5" r="2.75"/>
     <circle cx="370.5" cy="151.5" r="2.75"/>
     <circle cx="372.5" cy="207.5" r="2.75"/>
     <circle cx="374.5" cy="217.5" r="2.75"/>
     <circle cx="375.5" cy="157.5" r="2.75"/>
     <circle cx="377.5" cy="169.5" r="2.75"/>
     <circle cx="379.5" cy="162.5" r="2.75"/>
     <circle cx="380.5" cy="186.5" r="2.75"/>
     <circle cx="382.5" cy="228.5" r="2.75"/>
     <circle cx="384.5" cy="165.5" r="2.75"/>
     <circle cx="385.5" cy="217.5" r="2.75"/>
     <circle cx="387.5" cy="194.5" r="2.75"/>
     <circle cx="389.5" cy="192.5" r="2.75"/>
     <circle cx="391.5" cy="218.5" r="2.75"/>
     <circle cx="392.5" cy="201.5" r="2.75"/>
     <circle cx="394.5" cy="195.5" r="2.75"/>
     <circle cx="396.5" cy="209.5" r="2.75"/>
     <circle cx="397.5" cy="243.5" r="2.75"/>
     <circle cx="399.5" cy="212.5" r="2.75"/>
     <circle cx="401.5" cy="188.5" r="2.75"/>
     <circle cx="402.5" cy="235.5" r="2.75"/>
     <circle cx="404.5" cy="223.5" r="2.75"/>
     <circle cx="406.5" cy="230.5" r="2.75"/>
     <circle cx="407.5" cy="176.5" r="2.75"/>
     <circle cx="409.5" cy="204.5" r="2.75"/>
     <circle cx="411.5" cy="210.5" r="2.75"/>
     <circle cx="413.5" cy="236.5" r="2.75"/>
     <circle cx="414.5" cy="206.5" r="2.75"/>
     <circle cx="416.5" cy="233.5" r="2.75"/>
     <circle cx="418.5" cy="216.5" r="2.75"/>
     <circle cx="419.5" cy="231.5" r="2.75"/>
     <circle cx="421.5" cy="199.5" r="2.75"/>
     <circle cx="423.5" cy="201.5" r="2.75"/>
     <circle cx="424.5" cy="218.5" r="2.75"/>
     <circle cx="426.5" cy="202.5" r="2.75"/>
     <circle cx="428.5" cy="236.5" r="2.75"/>
     <circle cx="429.5" cy="243.5" r="2.75"/>
     <circle cx="431.5" cy="197.5" r="2.75"/>
     <circle cx="433.5" cy="202.5" r="2.75"/>
     <circle cx="435.5" cy="189.5" r="2.75"/>
     <circle cx="436.5" cy="147.5" r="2.75"/>
     <circle cx="438.5" cy="178.5" r="2.75"/>
     <circle cx="440.5" cy="220.5" r="2.75"/>
     <circle cx="441.5" cy="170.5" r="2.75"/>
     <circle cx="443.5" cy="225.5" r="2.75"/>
     <circle cx="445.5" cy="203.5" r="2.75"/>
     <circle cx="446.5" cy="192.5" r="2.75"/>
     <circle cx="448.5" cy="148.5" r="2.75"/>
     <circle cx="450.5" cy="203.5" r="2.75"/>
     <circle cx="452.5" cy="203.5" r="2.75"/>
     <circle cx="453.5" cy="184.5" r="2.75"/>
     <circle cx="455.5" cy="194.5" r="2.75"/>
     <circle cx="457.5" cy="150.5" r="2.75"/>
     <circle cx="458.5" cy="199.5" r="2.75"/>
     <circle cx="460.5" cy="199.5" r="2.75"/>
     <circle cx="462.5" cy="180.5" r="2.75"/>
     <circle cx="463.5" cy="179.5" r="2.75"/>
     <circle cx="465.5" cy="120.5" r="2.75"/>
     <circle cx="467.5" cy="141.5" r="2.75"/>
     <circle cx="468.5" cy="159.5" r="2.75"/>
     <circle cx="470.5" cy="187.5" r="2.75"/>
     <circle cx="472.5" cy="137.5" r="2.75"/>
     <circle cx="474.5" cy="177.5" r="2.75"/>
     <circle cx="475.5" cy="188.5" r="2.75"/>
     <circle cx="477.5" cy="122.5" r="2.75"/>
     <circle cx="479.5" cy="141.5" r="2.75"/>
     <circle cx="480.5" cy="125.5" r="2.75"/>
     <circle cx="482.5" cy="137.5" r="2.75"/>
     <circle cx="484.5" cy="122.5" r="2.75"/>
     <circle cx="485.5" cy="156.5" r="2.75"/>
     <circle cx="487.5" cy="163.5" r="2.75"/>
     <circle cx="489.5" cy="122.5" r="2.75"/>
     <circle cx="490.5" cy="155.5" r="2.75"/>
     <circle cx="492.5" cy="151.5" r="2.75"/>
     <circle cx="494.5" cy="144.5" r="2.75"/>
     <circle cx="496.5" cy="132.5" r="2.75"/>
     <circle cx="497.5" cy="139.5" r="2.75"/>
     <circle cx="499.5" cy="162.5" r="2.75"/>
     <circle cx="501.5" cy="144.5" r="2.75"/>
     <circle cx="502.5" cy="180.5" r="2.75"/>
     <circle cx="504.5" cy="113.5" r="2.75"/>
     <circle cx="506.5" cy="165.5" r="2.75"/>
     <circle cx="507.5" cy="153.5" r="2.75"/>
     <circle cx="509.5" cy="126.5" r="2.75"/>
     <circle cx="511.5" cy="144.5" r="2.75"/>
     <circle cx="512.5" cy="91.5" r="2.75"/>
     <circle cx="514.5" cy="157.5" r="2.75"/>
     <circle cx="516.5" cy="121.5" r="2.75"/>
     <circle cx="518.5" cy="128.5" r="2.75"/>
     <circle cx="519.5" cy="155.5" r="2.75"/>
     <circle cx="521.5" cy="116.5" r="2.75"/>
     <circle cx="523.5" cy="133.5" r="2.75"/>
     <circle cx="524.5" cy="111.5" r="2.75"/>
     <circle cx="526.5" cy="111.5" r="2.75"/>
     <circle cx="528.5" cy="81.5" r="2.75"/>
     <circle cx="529.5" cy="101.5" r="2.75"/>
     <circle cx="531.5" cy="142.5" r="2.75"/>
     <circle cx="533.5" cy="140.5" r="2.75"/>
     <circle cx="535.5" cy="111.5" r="2.75"/>
     <circle cx="536.5" cy="122.5" r="2.75"/>
     <circle cx="538.5" cy="124.5" r="2.75"/>
     <circle cx="540.5" cy="178.5" r="2.75"/>
     <circle cx="541.5" cy="143.5" r="2.75"/>
     <circle cx="543.5" cy="161.5" r="2.75"/>
     <circle cx="545.5" cy="140.5" r="2.75"/>
     <circle cx="546.5" cy="150.5" r="2.75"/>
     <circle cx="548.5" cy="129.5" r="2.75"/>
     <circle cx="550.5" cy="145.5" r="2.75"/>
     <circle cx="551.5" cy="136.5" r="2.75"/>
     <circle cx="553.5" cy="167.5" r="2.75"/>
     <circle cx="555.5" cy="180.5" r="2.75"/>
     <circle cx="557.5" cy="170.5" r="2.75"/>
     <circle cx="558.5" cy="163.5" r="2.75"/>
     <circle cx="560.5" cy="156.5" r="2.75"/>
     <circle cx="562.5" cy="115.5" r="2.75"/>
     <circle cx="563.5" cy="171.5" r="2.75"/>
     <circle cx="565.5" cy="194.5" r="2.75"/>
     <circle cx="567.5" cy="182.5" r="2.75"/>
     <circle cx="568.5" cy="188.5" r="2.75"/>
     <circle cx="570.5" cy="168.5" r="2.75"/>
     <circle cx="572.5" cy="217.5" r="2.75"/>
     <circle cx="573.5" cy="182.5" r="2.75"/>
     <circle cx="575.5" cy="182.5" r="2.75"/>
     <circle cx="577.5" cy="183.5" r="2.75"/>
     <circle cx="579.5" cy="204.5" r="2.75"/>
     <circle cx="580.5" cy="198.5" r="2.75"/>
     <circle cx="582.5" cy="228.5" r="2.75"/>
     <circle cx="584.5" cy="208.5" r="2.75"/>
     <circle cx="585.5" cy="211.5" r="2.75"/>
     <circle cx="587.5" cy="191.5" r="2.75"/>
     <circle cx="589.5" cy="229.5" r="2.75"/>
     <circle cx="590.5" cy="186.5" r="2.75"/>
     <circle cx="592.5" cy="171.5" r="2.75"/>
     <circle cx="594.5" cy="255.5" r="2.75"/>
     <circle cx="596.5" cy="199.5" r="2.75"/>
     <circle cx="597.5" cy="195.5" r="2.75"/>
     <circle cx="599.5" cy="226.5" r="2.75"/>
     <circle cx="601.5" cy="222.5" r="2.75"/>
     <circle cx="602.5" cy="217.5" r="2.75"/>
     <circle cx="604.5" cy="222.5" r="2.75"/>
     <circle cx="606.5" cy="223.5" r="2.75"/>
     <circle cx="607.5" cy="256.5" r="2.75"/>
     <circle cx="609.5" cy="191.5" r="2.75"/>
     <circle cx="611.5" cy="193.5" r="2.75"/>
     <circle cx="612.5" cy="238.5" r="2.75"/>
     <circle cx="614.5" cy="253.5" r="2.75"/>
     <circle cx="616.5" cy="207.5" r="2.75"/>
     <circle cx="618.5" cy="233.5" r="2.75"/>
     <circle cx="619.5" cy="216.5" r="2.75"/>
     <circle cx="621.5" cy="227.5" r="2.75"/>
     <circle cx="623.5" cy="203.5" r="2.75"/>
     <circle cx="624.5" cy="203.5" r="2.75"/>
     <circle cx="626.5" cy="235.5" r="2.75"/>
     <circle cx="628.5" cy="250.5" r="2.75"/>
     <circle cx="629.5" cy="254.5" r="2.75"/>
     <circle cx="631.5" cy="202.5" r="2.75"/>
     <circle cx="633.5" cy="243.5" r="2.75"/>
     <circle cx="634.5" cy="226.5" r="2.75"/>
     <circle cx="636.5" cy="227.5" r="2.75"/>
     <circle cx="638.5" cy="214.5" r="2.75"/>
     <circle cx="640.5" cy="256.5" r="2.75"/>
     <circle cx="641.5" cy="205.5" r="2.75"/>
     <circle cx="643.5" cy="196.5" r="2.75"/>
     <circle cx="645.5" cy="205.5" r="2.75"/>
     <circle cx="646.5" cy="212.5" r="2.75"/>
     <circle cx="648.5" cy="201.5" r="2.75"/>
     <circle cx="650.5" cy="192.5" r="2.75"/>
     <circle cx="651.5" cy="264.5" r="2.75"/>
     <circle cx="653.5" cy="152.5" r="2.75"/>
     <circle cx="655.5" cy="187.5" r="2.75"/>
     <circle cx="657.5" cy="209.5" r="2.75"/>
     <circle cx="658.5" cy="201.5" r="2.75"/>
     <circle cx="660.5" cy="178.5" r="2.75"/>
     <circle cx="662.5" cy="190.5" r="2.75"/>
     <circle cx="663.5" cy="232.5" r="2.75"/>
     <circle cx="665.5" cy="135.5" r="2.75"/>
     <circle cx="667.5" cy="183.5" r="2.75"/>
     <circle cx="668.5" cy="154.5" r="2.75"/>
     <circle cx="670.5" cy="192.5" r="2.75"/>
     <circle cx="672.5" cy="138.5" r="2.75"/>
     <circle cx="673.5" cy="165.5" r="2.75"/>
     <circle cx="675.5" cy="155.5" r="2.75"/>
     <circle cx="677.5" cy="191.5" r="2.75"/>
     <circle cx="679.5" cy="136.5" r="2.75"/>
     <circle cx="680.5" cy="146.5" r="2.75"/>
     <circle cx="682.5" cy="130.5" r="2.75"/>
     <circle cx="684.5" cy="172.5" r="2.75"/>
     <circle cx="685.5" cy="167.5" r="2.75"/>
     <circle cx="687.5" cy="100.5" r="2.75"/>
     <circle cx="689.5" cy="176.5" r="2.75"/>
     <circle cx="690.5" cy="152.5" r="2.75"/>
     <circle cx="692.5" cy="121.5" r="2.75"/>
     <circle cx="694.5" cy="143.5" r="2.75"/>
     <circle cx="695.5" cy="130.5" r="2.75"/>
     <circle cx="697.5" cy="151.5" r="2.75"/>
     <circle cx="699.5" cy="131.5" r="2.75"/>
     <circle cx="701.5" cy="169.5" r="2.75"/>
     <circle cx="702.5" cy="98.5" r="2.75"/>
     <circle cx="704.5" cy="138.5" r="2.75"/>
     <circle cx="706.5" cy="150.5" r="2.75"/>
     <circle cx="707.5" cy="118.5" r="2.75"/>
     <circle cx="709.5" cy="143.5" r="2.75"/>
     <circle cx="711.5" cy="162.5" r="2.75"/>
     <circle cx="712.5" cy="161.5" r="2.75"/>
     <circle cx="714.5" cy="113.5" r="2.75"/>
     <circle cx="716.5" cy="132.5" r="2.75"/>
     <circle cx="718.5" cy="131.5" r="2.75"/>
     <circle cx="719.5" cy="102.5" r="2.75"/>
     <circle cx="721.5" cy="153.5" r="2.75"/>
     <circle cx="723.5" cy="144.5" r="2.75"/>
     <circle cx="724.5" cy="136.5" r="2.75"/>
     <circle cx="726.5" cy="124.5" r="2.75"/>
     <circle cx="728.5" cy="128.5" r="2.75"/>
     <circle cx="729.5" cy="134.5" r="2.75"/>
     <circle cx="731.5" cy="129.5" r="2.75"/>
     <circle cx="733.5" cy="130.5" r="2.75"/>
     <circle cx="734.5" cy="145.5" r="2.75"/>
     <circle cx="736.5" cy="148.5" r="2.75"/>
     <circle cx="738.5" cy="123.5" r="2.75"/>
     <circle cx="740.5" cy="151.5" r="2.75"/>
     <circle cx="741.5" cy="158.5" r="2.75"/>
     <circle cx="743.5" cy="140.5" r="2.75"/>
     <circle cx="745.5" cy="138.5" r="2.75"/>
     <circle cx="746.5" cy="83.5" r="2.75"/>
     <circle cx="748.5" cy="153.5" r="2.75"/>
     <circle cx="750.5" cy="116.5" r="2.75"/>
     <circle cx="751.5" cy="122.5" r="2.75"/>
     <circle cx="753.5" cy="169.5" r="2.75"/>
     <circle cx="755.5" cy="125.5" r="2.75"/>
     <circle cx="756.5" cy="172.5" r="2.75"/>
     <circle cx="758.5" cy="208.5" r="2.75"/>
     <circle cx="760.5" cy="135.5" r="2.75"/>
     <circle cx="762.5" cy="191.5" r="2.75"/>
     <circle cx="763.5" cy="142.5" r="2.75"/>
     <circle cx="765.5" cy="171.5" r="2.75"/>
     <circle cx="767.5" cy="118.5" r="2.75"/>
     <circle cx="768.5" cy="134.5" r="2.75"/>
     <circle cx="770.5" cy="172.5" r="2.75"/>
     <circle cx="772.5" cy="180.5" r="2.75"/>
     <circle cx="773.5" cy="194.5" r="2.75"/>
     <circle cx="775.5" cy="179.5" r="2.75"/>
     <circle cx="777.5" cy="177.5" r="2.75"/>
     <circle cx="778.5" cy="181.5" r="2.75"/>
     <circle cx="780.5" cy="172.5" r="2.75"/>
     <circle cx="782.5" cy="164.5" r="2.75"/>
     <circle cx="784.5" cy="172.5" r="2.75"/>
     <circle cx="785.5" cy="200.5" r="2.75"/>
     <circle cx="787.5" cy="218.5" r="2.75"/>
     <circle cx="789.5" cy="155.5" r="2.75"/>
     <circle cx="790.5" cy="205.5" r="2.75"/>
     <circle cx="792.5" cy="206.5" r="2.75"/>
     <circle cx="794.5" cy="205.5" r="2.75"/>
     <circle cx="795.5" cy="238.5" r="2.75"/>
     <circle cx="797.5" cy="208.5" r="2.75"/>
     <circle cx="799.5" cy="210.5" r="2.75"/>
     <circle cx="801.5" cy="187.5" r="2.75"/>
     <circle cx="802.5" cy="187.5" r="2.75"/>
     <circle cx="804.5" cy="205.5" r="2.75"/>
     <circle cx="806.5" cy="185.5" r="2.75"/>
     <circle cx="807.5" cy="200.5" r="2.75"/>
     <circle cx="809.5" cy="210.5" r="2.75"/>
     <circle cx="811.5" cy="207.5" r="2.75"/>
     <circle cx="812.5" cy="216.5" r="2.75"/>
     <circle cx="814.5" cy="222.5" r="2.75"/>
     <circle cx="816.5" cy="221.5" r="2.75"/>
     <circle cx="817.5" cy="242.5" r="2.75"/>
     <circle cx="819.5" cy="210.5" r="2.75"/>
     <circle cx="821.5" cy="240.5" r="2.75"/>
     <circle cx="823.5" cy="198.5" r="2.75"/>
     <circle cx="824.5" cy="224.5" r="2.75"/>
     <circle cx="826.5" cy="218.5" r="2.75"/>
     <circle cx="828.5" cy="208.5" r="2.75"/>
     <circle cx="829.5" cy="204.5" r="2.75"/>
     <circle cx="831.5" cy="256.5" r="2.75"/>
     <circle cx="833.5" cy="224.5" r="2.75"/>
     <circle cx="834.5" cy="199.5" r="2.75"/>
     <circle cx="836.5" cy="259.5" r="2.75"/>
     <circle cx="838.5" cy="210.5" r="2.75"/>
     <circle cx="839.5" cy="271.5" r="2.75"/>
     <circle cx="841.5" cy="241.5" r="2.75"/>
     <circle cx="843.5" cy="216.5" r="2.75"/>
     <circle cx="845.5" cy="255.5" r="2.75"/>
     <circle cx="846.5" cy="238.5" r="2.75"/>
     <circle cx="848.5" cy="248.5" r="2.75"/>
     <circle cx="850.5" cy="175.5" r="2.75"/>
     <circle cx="851.5" cy="208.5" r="2.75"/>
     <circle cx="853.5" cy="197.5" r="2.75"/>
     <circle cx="855.5" cy="214.5" r="2.75"/>
     <circle cx="856.5" cy="216.5" r="2.75"/>
     <circle cx="858.5" cy="244.5" r="2.75"/>
     <circle cx="860.5" cy="211.5" r="2.75"/>
     <circle cx="862.5" cy="220.5" r="2.75"/>
     <circle cx="863.5" cy="181.5" r="2.75"/>
     <circle cx="865.5" cy="172.5" r="2.75"/>
     <circle cx="867.5" cy="163.5" r="2.75"/>
     <circle cx="868.5" cy="175.5" r="2.75"/>
     <circle cx="870.5" cy="207.5" r="2.75"/>
     <circle cx="872.5" cy="217.5" r="2.75"/>
     <circle cx="873.5" cy="171.5" r="2.75"/>
     <circle cx="875.5" cy="178.5" r="2.75"/>
     <circle cx="877.5" cy="225.5" r="2.75"/>
     <circle cx="878.5" cy="174.5" r="2.75"/>
     <circle cx="880.5" cy="161.5" r="2.75"/>
     <circle cx="882.5" cy="176.5" r="2.75"/>
     <circle cx="884.5" cy="179.5" r="2.75"/>
     <circle cx="885.5" cy="191.5" r="2.75"/>
     <circle cx="887.5" cy="204.5" r="2.75"/>
     <circle cx="889.5" cy="149.5" r="2.75"/>
     <circle cx="890.5" cy="173.5" r="2.75"/>
     <circle cx="892.5" cy="169.5" r="2.75"/>
     <circle cx="894.5" cy="121.5" r="2.75"/>
     <circle cx="895.5" cy="143.5" r="2.75"/>
     <circle cx="897.5" cy="148.5" r="2.75"/>
     <circle cx="899.5" cy="151.5" r="2.75"/>
     <circle cx="900.5" cy="117.5" r="2.75"/>
     <circle cx="902.5" cy="111.5" r="2.75"/>
     <circle cx="904.5" cy="127.5" r="2.75"/>
     <circle cx="906.5" cy="133.5" r="2.75"/>
     <circle cx="907.5" cy="193.5" r="2.75"/>
     <circle cx="909.5" cy="140.5" r="2.75"/>
     <circle cx="911.5" cy="144.5" r="2.75"/>
     <circle cx="912.5" cy="137.5" r="2.75"/>
     <circle cx="914.5" cy="116.5" r="2.75"/>
     <circle cx="916.5" cy="200.5" r="2.75"/>
     <circle cx="917.5" cy="148.5" r="2.75"/>
     <circle cx="919.5" cy="128.5" r="2.75"/>
     <circle cx="921.5" cy="143.5" r="2.75"/>
     <circle cx="923.5" cy="164.5" r="2.75"/>
     <circle cx="924.5" cy="110.5" r="2.75"/>
     <circle cx="926.5" cy="123.5" r="2.75"/>
     <circle cx="928.5" cy="151.5" r="2.75"/>
     <circle cx="929.5" cy="121.5" r="2.75"/>
     <circle cx="931.5" cy="109.5" r="2.75"/>
     <circle cx="933.5" cy="127.5" r="2.75"/>
     <circle cx="934.5" cy="108.5" r="2.75"/>
     <circle cx="936.5" cy="125.5" r="2.75"/>
     <circle cx="938.5" cy="136.5" r="2.75"/>
     <circle cx="939.5" cy="154.5" r="2.75"/>
     <circle cx="941.5" cy="129.5" r="2.75"/>
     <circle cx="943.5" cy="122.5" r="2.75"/>
     <circle cx="945.5" cy="107.5" r="2.75"/>
     <circle cx="946.5" cy="131.5" r="2.75"/>
     <circle cx="948.5" cy="118.5" r="2.75"/>
     <circle cx="950.5" cy="152.5" r="2.75"/>
     <circle cx="951.5" cy="148.5" r="2.75"/>
     <circle cx="953.5" cy="133.5" r="2.75"/>
     <circle cx="955.5" cy="156.5" r="2.75"/>
     <circle cx="956.5" cy="114.5" r="2.75"/>
     <circle cx="958.5" cy="124.5" r="2.75"/>
     <circle cx="960.5" cy="129.5" r="2.75"/>
     <circle cx="961.5" cy="129.5" r="2.75"/>
     <circle cx="963.5" cy="92.5" r="2.75"/>
     <circle cx="965.5" cy="151.5" r="2.75"/>
     <circle cx="967.5" cy="193.5" r="2.75"/>
     <circle cx="968.5" cy="139.5" r="2.75"/>
     <circle cx="970.5" cy="147.5" r="2.75"/>
     <circle cx="972.5" cy="159.5" r="2.75"/>
     <circle cx="973.5" cy="172.5" r="2.75"/>
     <circle cx="975.5" cy="162.5" r="2.75"/>
     <circle cx="977.5" cy="149.5" r="2.75"/>
     <circle cx="978.5" cy="167.5" r="2.75"/>
     <circle cx="980.5" cy="102.5" r="2.75"/>
     <circle cx="982.5" cy="182.5" r="2.75"/>
     <circle cx="984.5" cy="181.5" r="2.75"/>
     <circle cx="985.5" cy="218.5" r="2.75"/>
     <circle cx="987.5" cy="161.5" r="2.75"/>
     <circle cx="989.5" cy="216.5" r="2.75"/>
     <circle cx="990.5" cy="184.5" r="2.75"/>
     <circle cx="992.5" cy="180.5" r="2.75"/>
     <circle cx="994.5" cy="193.5" r="2.75"/>
     <circle cx="995.5" cy="138.5" r="2.75"/>
     <circle cx="997.5" cy="158.5" r="2.75"/>
     <circle cx="999.5" cy="152.5" r="2.75"/>
     <circle cx="1000.5" cy="206.5" r="2.75"/>
     <circle cx="1002.5" cy="161.5" r="2.75"/>
     <circle cx="1004.5" cy="178.5" r="2.75"/>
     <circle cx="1006.5" cy="174.5" r="2.75"/>
     <circle cx="1007.5" cy="170.5" r="2.75"/>
     <circle cx="1009.5" cy="217.5" r="2.75"/>
     <circle cx="1011.5" cy="208.5" r="2.75"/>
     <circle cx="1012.5" cy="180.5" r="2.75"/>
     <circle cx="1014.5" cy="263.5" r="2.75"/>
     <circle cx="1016.5" cy="168.5" r="2.75"/>
     <circle cx="1017.5" cy="192.5" r="2.75"/>
     <circle cx="1019.5" cy="208.5" r="2.75"/>
     <circle cx="1021.5" cy="203.5" r="2.75"/>
     <circle cx="1022.5" cy="234.5" r="2.75"/>
     <circle cx="1024.5" cy="219.5" r="2.75"/>
     <circle cx="1026.5" cy="187.5" r="2.75"/>
     <circle cx="1028.5" cy="184.5" r="2.75"/>
     <circle cx="1029.5" cy="152.5" r="2.75"/>
     <circle cx="1031.5" cy="217.5" r="2.75"/>
     <circle cx="1033.5" cy="232.5" r="2.75"/>
     <circle cx="1034.5" cy="229.5" r="2.75"/>
     <circle cx="1036.5" cy="242.5" r="2.75"/>
     <circle cx="1038.5" cy="220.5" r="2.75"/>
    </g>
   </g>
   <g id="line2d_14">
    <path d="M 192.27 178.49 L 193.96 194.48 L 195.66 195.33 L 197.35 187.54 L 199.04 184.34 L 200.74 197.29 L 202.43 197.55 L 204.13 203.47 L 205.82 208.07 L 207.52 208.87 L 209.21 210.62 L 210.91 204.52 L 212.60 202.72 L 214.29 204.29 L 215.99 203.54 L 217.68 203.11 L 219.38 196.34 L 221.07 198.94 L 222.77 198.16 L 224.46 202.93 L 226.15 214.97 L 227.85 209.15 L 229.54 202.64 L 231.24 204.29 L 232.93 190.90 L 234.63 196.58 L 236.32 194.02 L 238.01 192.47 L 239.71 182.63 L 241.40 173.98 L 243.10 172.26 L 244.79 169.40 L 246.49 172.51 L 248.18 179.99 L 249.87 178.54 L 251.57 174.54 L 253.26 165.66 L 254.96 157.69 L 256.65 157.83 L 258.35 157.30 L 260.04 160.03 L 261.73 163.86 L 263.43 168.23 L 265.12 154.69 L 266.82 154.01 L 268.51 152.84 L 270.21 155.37 L 271.90 147.89 L 273.59 152.27 L 275.29 149.37 L 276.98 149.83 L 278.68 144.08 L 280.37 143.08 L 282.07 145.20 L 283.76 141.58 L 285.45 136.19 L 287.15 133.12 L 288.84 129.31 L 290.54 130.36 L 292.23 130.05 L 293.93 131.26 L 295.62 130.92 L 297.31 132.79 L 299.01 138.74 L 300.70 135.14 L 302.40 134.76 L 304.09 140.25 L 305.79 135.41 L 307.48 137.68 L 309.17 135.35 L 310.87 130.33 L 312.56 128.95 L 314.26 123.29 L 315.95 129.68 L 317.65 127.96 L 319.34 131.80 L 321.03 136.34 L 322.73 139.24 L 324.42 140.82 L 326.12 140.78 L 327.81 146.74 L 329.51 142.63 L 331.20 141.38 L 332.89 149.96 L 334.59 143.73 L 336.28 136.74 L 337.98 134.37 L 339.67 139.08 L 341.37 147.79 L 343.06 145.94 L 344.75 151.49 L 346.45 149.19 L 348.14 152.28 L 349.84 151.82 L 351.53 154.70 L 353.23 155.99 L 354.92 160.74 L 356.61 157.01 L 358.31 161.85 L 360.00 165.18 L 361.70 161.55 L 363.39 173.77 L 365.09 184.42 L 366.78 183.56 L 368.47 193.01 L 370.17 186.97 L 371.86 192.86 L 373.56 199.78 L 375.25 193.56 L 376.95 190.36 L 378.64 185.95 L 380.33 186.80 L 382.03 196.00 L 383.72 191.33 L 385.42 197.54 L 387.11 198.14 L 388.81 198.10 L 390.50 203.30 L 392.19 204.34 L 393.89 203.86 L 395.58 206.01 L 397.28 214.77 L 398.97 215.90 L 400.67 212.02 L 402.36 217.95 L 404.05 220.51 L 405.75 223.94 L 407.44 216.15 L 409.14 214.65 L 410.83 214.44 L 412.53 219.58 L 414.22 217.80 L 415.92 221.69 L 417.61 221.56 L 419.30 224.31 L 421.00 220.32 L 422.69 217.01 L 424.39 217.49 L 426.08 214.82 L 427.78 219.12 L 429.47 224.41 L 431.16 219.70 L 432.86 216.46 L 434.55 211.10 L 436.25 197.93 L 437.94 192.81 L 439.64 196.72 L 441.33 190.41 L 443.02 195.92 L 444.72 196.46 L 446.41 194.74 L 448.11 184.59 L 449.80 186.82 L 451.50 188.82 L 453.19 186.82 L 454.88 187.34 L 456.58 179.08 L 458.27 181.77 L 459.97 184.09 L 463.36 180.88 L 465.05 167.84 L 466.74 160.68 L 468.44 158.15 L 470.13 161.80 L 471.83 155.10 L 473.52 157.56 L 475.22 161.99 L 476.91 152.87 L 478.60 148.69 L 480.30 142.00 L 481.99 138.78 L 483.69 133.30 L 485.38 135.40 L 487.08 138.90 L 488.77 133.84 L 490.46 136.19 L 492.16 137.60 L 493.85 137.62 L 495.55 135.32 L 497.24 134.93 L 498.94 139.26 L 500.63 139.55 L 502.32 147.08 L 504.02 140.31 L 505.71 144.68 L 507.41 146.13 L 509.10 141.97 L 510.80 142.00 L 512.49 131.42 L 514.18 135.45 L 515.88 131.82 L 517.57 130.21 L 519.27 134.21 L 520.96 130.01 L 522.66 129.76 L 524.35 125.37 L 526.04 121.54 L 527.74 112.25 L 529.43 108.33 L 531.13 113.24 L 532.82 117.32 L 534.52 115.04 L 536.21 115.50 L 537.90 116.37 L 539.60 128.03 L 541.29 131.18 L 542.99 137.59 L 544.68 138.78 L 546.38 141.89 L 548.07 140.23 L 549.76 141.86 L 551.46 141.46 L 553.15 147.30 L 554.85 154.98 L 556.54 159.53 L 558.24 161.99 L 559.93 162.59 L 561.62 154.67 L 563.32 158.80 L 565.01 167.04 L 568.40 176.70 L 570.10 176.92 L 571.79 186.81 L 573.48 188.25 L 575.18 189.31 L 576.87 190.12 L 578.57 194.94 L 580.26 197.70 L 581.96 205.86 L 585.34 211.84 L 587.04 210.14 L 588.73 216.13 L 590.43 212.48 L 592.12 206.11 L 593.82 217.29 L 595.51 215.61 L 597.20 213.08 L 598.90 217.12 L 600.59 219.64 L 602.29 220.70 L 605.68 224.10 L 607.37 231.92 L 609.06 225.58 L 610.76 220.35 L 612.45 224.59 L 614.15 231.32 L 615.84 227.90 L 617.54 229.93 L 619.23 228.27 L 620.93 228.86 L 622.62 224.54 L 624.31 220.64 L 626.01 223.72 L 629.40 235.00 L 631.09 229.51 L 632.79 232.83 L 634.48 232.30 L 636.17 231.97 L 637.87 228.86 L 639.56 234.60 L 641.26 229.42 L 642.95 222.98 L 644.65 219.07 L 646.34 217.22 L 648.03 213.40 L 649.73 208.37 L 651.42 218.44 L 653.12 204.91 L 654.81 200.04 L 656.51 200.35 L 658.20 199.11 L 659.89 193.59 L 661.59 191.30 L 663.28 197.91 L 664.98 184.30 L 666.67 182.19 L 668.37 174.80 L 670.06 176.03 L 671.75 166.46 L 673.45 163.65 L 675.14 159.45 L 676.84 163.25 L 678.53 155.82 L 680.23 151.49 L 681.92 144.64 L 683.61 147.43 L 685.31 148.98 L 687.00 137.15 L 688.70 142.27 L 690.39 142.25 L 692.09 136.09 L 693.78 135.36 L 695.47 132.28 L 697.17 134.00 L 698.86 131.76 L 700.56 137.45 L 702.25 128.46 L 703.95 128.71 L 705.64 131.44 L 707.33 127.44 L 709.03 129.08 L 710.72 134.49 L 712.42 139.19 L 714.11 133.67 L 717.50 131.72 L 719.19 125.16 L 720.89 129.70 L 722.58 131.86 L 724.28 132.16 L 725.97 130.22 L 727.67 129.23 L 729.36 129.59 L 731.05 128.96 L 732.75 128.76 L 734.44 131.59 L 736.14 134.65 L 737.83 132.44 L 739.53 136.10 L 741.22 140.75 L 742.91 141.06 L 744.61 140.82 L 746.30 129.59 L 748.00 133.83 L 749.69 130.20 L 751.39 128.26 L 753.08 135.96 L 754.77 133.91 L 756.47 141.59 L 758.16 155.52 L 759.86 152.80 L 761.55 161.69 L 763.25 159.48 L 764.94 163.11 L 766.63 155.67 L 768.33 152.25 L 770.02 156.73 L 771.72 162.12 L 773.41 169.66 L 775.11 172.98 L 776.80 175.46 L 778.49 178.33 L 780.19 178.71 L 781.88 177.40 L 783.58 177.64 L 785.27 183.36 L 786.97 191.82 L 788.66 186.46 L 790.35 191.61 L 792.05 196.23 L 793.74 199.91 L 795.44 209.51 L 798.83 213.88 L 802.21 207.87 L 803.91 208.74 L 805.60 205.38 L 807.30 205.39 L 808.99 207.26 L 810.69 208.25 L 812.38 210.92 L 814.07 214.35 L 815.77 216.87 L 817.46 223.15 L 819.16 222.13 L 820.85 227.18 L 822.55 223.04 L 824.24 224.49 L 825.94 224.33 L 827.63 222.09 L 829.32 219.39 L 831.02 227.29 L 832.71 227.76 L 834.41 223.00 L 836.10 230.71 L 837.80 227.60 L 839.49 237.00 L 841.18 239.26 L 842.88 236.03 L 844.57 240.82 L 846.27 241.59 L 847.96 244.20 L 849.66 231.63 L 851.35 227.22 L 853.04 221.21 L 854.74 219.38 L 856.43 218.13 L 858.13 222.65 L 859.82 220.14 L 861.52 219.81 L 863.21 211.66 L 864.90 202.89 L 866.60 193.43 L 868.29 187.78 L 869.99 189.37 L 871.68 192.93 L 873.38 187.02 L 875.07 183.46 L 876.76 189.97 L 878.46 185.46 L 880.15 179.05 L 881.85 176.65 L 883.54 175.39 L 885.24 176.89 L 886.93 180.85 L 888.62 173.52 L 890.32 171.92 L 892.01 169.85 L 893.71 158.58 L 895.40 153.33 L 897.10 149.96 L 898.79 147.87 L 902.18 130.94 L 903.87 127.06 L 905.57 125.19 L 907.26 135.91 L 908.96 134.82 L 910.65 134.88 L 912.34 133.72 L 914.04 128.59 L 915.73 141.11 L 917.43 141.79 L 919.12 138.29 L 920.82 138.49 L 922.51 142.94 L 924.20 136.04 L 925.90 132.65 L 927.59 135.42 L 929.29 131.80 L 930.98 126.24 L 932.68 125.20 L 934.37 120.63 L 936.06 120.07 L 937.76 121.90 L 939.45 127.17 L 941.15 126.89 L 942.84 125.44 L 944.54 121.14 L 946.23 122.15 L 947.92 120.57 L 949.62 126.02 L 951.31 130.15 L 953.01 130.83 L 954.70 136.02 L 956.40 132.04 L 958.09 130.45 L 961.48 129.94 L 963.17 122.22 L 964.87 127.41 L 966.56 140.38 L 968.26 140.88 L 969.95 142.77 L 971.64 146.91 L 973.34 152.98 L 975.03 156.07 L 976.73 156.17 L 978.42 159.74 L 980.12 149.60 L 981.81 156.77 L 983.50 162.63 L 985.20 175.06 L 986.89 174.39 L 988.59 184.63 L 990.28 186.98 L 991.98 188.03 L 993.67 191.22 L 995.36 182.86 L 997.06 179.30 L 998.75 175.01 L 1000.45 181.87 L 1002.14 178.87 L 1003.84 179.54 L 1005.53 179.20 L 1007.22 178.05 L 1008.92 186.42 L 1010.61 191.80 L 1012.31 190.79 L 1014.00 206.53 L 1015.70 201.08 L 1017.39 200.96 L 1019.08 203.82 L 1020.78 205.25 L 1022.47 212.47 L 1024.17 215.74 L 1025.86 211.92 L 1027.56 207.73 L 1029.25 197.66 L 1030.95 201.88 L 1032.64 208.43 L 1034.33 213.56 L 1036.03 220.41 L 1037.72 222.01 L 1037.72 222.01 
" clip-path="url(#pb499dece62)" style="fill: none; stroke: #1f77b4; stroke-width: 2.08; stroke-linecap: square"/>
   </g>
   <g id="patch_3">
    <path d="M 150.5 280.5 L 150.5 72.5" style="fill: none; stroke: #000000; stroke-width: 1.11; stroke-linejoin: miter; stroke-linecap: square"/>
   </g>
   <g id="patch_4">
    <path d="M 1080.5 280.5 L 1080.5 72.5" style="fill: none; stroke: #000000; stroke-width: 1.11; stroke-linejoin: miter; stroke-linecap: square"/>
   </g>
   <g id="patch_5">
    <path d="M 150.5 280.5 L 1080.5 280.5" style="fill: none; stroke: #000000; stroke-width: 1.11; stroke-linejoin: miter; stroke-linecap: square"/>
   </g>
   <g id="patch_6">
    <path d="M 150.5 72.5 L 1080.5 72.5" style="fill: none; stroke: #000000; stroke-width: 1.11; stroke-linejoin: miter; stroke-linecap: square"/>
   </g>
   <g id="legend_1">
    <g id="patch_7">
     <path d="M 542.5 145.5 L 688.5 145.5 Q 691.5 145.5 691.5 143.5 L 691.5 81.5 Q 691.5 78.5 688.5 78.5 L 542.5 78.5 Q 539.5 78.5 539.5 81.5 L 539.5 143.5 Q 539.5 145.5 542.5 145.5 z
" style="fill: #ffffff; opacity: 0.8; stroke: #cccccc; stroke-width: 1.38; stroke-linejoin: miter"/>
    </g>
    <g id="line2d_15">
     <path d="M 544.0 90.0 L 572.0 90.0" style="fill: none; stroke: #000000; stroke-width: 2.08; stroke-linecap: square"/>
    </g>
    <g id="text_14">
     <text style="font-size: 13.88px; font-family: 'DejaVu Sans', 'Liberation Sans', sans-serif; text-anchor: start" x="583.25" y="95.02" transform="translate(-0.20 0.05) rotate(-0 583.25 95.02)">Simulation</text>
    </g>
    <g id="line2d_16">
     <g>
      <circle cx="558.5" cy="111.5" r="2.75"/>
     </g>
    </g>
    <g id="text_15">
     <text style="font-size: 13.88px; font-family: 'DejaVu Sans', 'Liberation Sans', sans-serif; text-anchor: start" x="583.25" y="115.96" transform="translate(-0.19 0.01) rotate(-0 583.25 115.96)">Measurements</text>
    </g>
    <g id="line2d_17">
     <path d="M 544.0 132.0 L 572.0 132.0" style="fill: none; stroke: #1f77b4; stroke-width: 2.08; stroke-linecap: square"/>
    </g>
    <g id="text_16">
     <text style="font-size: 13.88px; font-family: 'DejaVu Sans', 'Liberation Sans', sans-serif; text-anchor: start" x="583.25" y="136.90" transform="translate(0.69 0.03) rotate(-0 583.25 136.90)">KF</text>
    </g>
   </g>
  </g>
  <g id="axes_2">
   <g id="patch_8">
    <path d="M 150 530.44 L 1080 530.44 L 1080 321.84 L 150 321.84 z
" style="fill: #ffffff"/>
   </g>
   <g id="FillBetweenPolyCollection_2">
    
    <g clip-path="url(#p8013b4d162)">
     <path d="M 192.27 -207.31 L 192.27 -120.54 L 193.96 -116.86 L 195.66 -115.97 L 197.35 -123.63 L 199.04 -128.08 L 200.74 -104.36 L 202.43 -106.49 L 204.13 -96.45 L 205.82 -90.67 L 207.52 -94.26 L 209.21 -95.48 L 210.91 -113.27 L 212.60 -119.80 L 214.29 -118.75 L 215.99 -122.33 L 217.68 -124.81 L 219.38 -138.61 L 221.07 -133.88 L 222.77 -135.61 L 224.46 -127.43 L 226.15 -107.56 L 227.85 -120.12 L 229.54 -132.59 L 231.24 -130.09 L 232.93 -153.04 L 234.63 -141.96 L 236.32 -145.65 L 238.01 -147.30 L 239.71 -162.59 L 241.40 -174.53 L 243.10 -173.87 L 244.79 -175.16 L 246.49 -166.40 L 248.18 -151.14 L 249.87 -152.10 L 251.57 -157.24 L 253.26 -170.04 L 254.96 -180.18 L 256.65 -175.90 L 258.35 -173.13 L 260.04 -165.17 L 261.73 -156.08 L 263.43 -146.90 L 265.12 -168.40 L 266.82 -166.54 L 268.51 -165.67 L 270.21 -158.71 L 271.90 -169.05 L 273.59 -158.70 L 275.29 -161.40 L 276.98 -158.28 L 278.68 -165.78 L 280.37 -164.69 L 282.07 -158.49 L 283.76 -162.42 L 285.45 -168.94 L 287.15 -171.03 L 288.84 -174.15 L 290.54 -168.89 L 292.23 -166.38 L 293.93 -161.55 L 295.62 -159.74 L 297.31 -154.41 L 299.01 -142.74 L 300.70 -148.03 L 302.40 -147.49 L 304.09 -137.22 L 305.79 -145.08 L 307.48 -140.39 L 309.17 -143.78 L 310.87 -151.36 L 312.56 -152.19 L 314.26 -160.08 L 315.95 -147.17 L 317.65 -148.95 L 319.34 -141.28 L 321.03 -133.14 L 322.73 -128.46 L 324.42 -126.40 L 326.12 -127.22 L 327.81 -117.98 L 329.51 -126.33 L 331.20 -129.17 L 332.89 -115.38 L 334.59 -127.51 L 336.28 -139.83 L 337.98 -143.33 L 339.67 -134.72 L 341.37 -120.21 L 343.06 -124.62 L 344.75 -116.27 L 346.45 -121.77 L 348.14 -117.78 L 349.84 -120.08 L 351.53 -116.60 L 353.23 -116.08 L 354.92 -109.83 L 356.61 -118.28 L 358.31 -111.69 L 360.00 -108.21 L 361.70 -116.64 L 363.39 -97.90 L 365.09 -83.44 L 366.78 -89.46 L 368.47 -77.76 L 370.17 -92.92 L 371.86 -86.84 L 373.56 -79.60 L 375.25 -94.90 L 376.95 -103.81 L 378.64 -113.92 L 380.33 -114.37 L 382.03 -100.87 L 383.72 -111.69 L 385.42 -103.40 L 387.11 -105.22 L 388.81 -107.93 L 390.50 -101.66 L 392.19 -102.89 L 393.89 -106.55 L 395.58 -105.49 L 397.28 -93.50 L 398.97 -95.32 L 400.67 -105.32 L 402.36 -98.06 L 404.05 -97.08 L 405.75 -94.73 L 407.44 -111.30 L 409.14 -115.90 L 410.83 -117.95 L 412.53 -110.89 L 414.22 -115.99 L 415.92 -111.20 L 417.61 -113.52 L 419.30 -110.85 L 421.00 -119.64 L 422.69 -126.52 L 424.39 -126.46 L 426.08 -131.67 L 427.78 -124.79 L 429.47 -116.86 L 431.16 -126.33 L 432.86 -132.48 L 434.55 -141.64 L 436.25 -163.00 L 437.94 -169.02 L 439.64 -159.46 L 441.33 -167.78 L 443.02 -155.66 L 444.72 -152.91 L 446.41 -154.16 L 448.11 -169.37 L 449.80 -162.58 L 451.50 -156.77 L 453.19 -158.14 L 454.88 -155.21 L 456.58 -167.16 L 458.27 -159.79 L 459.97 -153.71 L 461.66 -154.79 L 463.36 -155.60 L 465.05 -175.48 L 466.74 -183.81 L 468.44 -183.66 L 470.13 -173.22 L 471.83 -180.98 L 473.52 -172.76 L 475.22 -161.98 L 476.91 -174.77 L 478.60 -178.18 L 480.30 -185.47 L 481.99 -186.33 L 483.69 -190.88 L 485.38 -182.38 L 487.08 -172.30 L 488.77 -177.40 L 490.46 -169.68 L 492.16 -164.23 L 493.85 -161.57 L 495.55 -163.03 L 497.24 -161.17 L 498.94 -151.61 L 500.63 -149.62 L 502.32 -135.76 L 504.02 -146.97 L 505.71 -138.61 L 507.41 -135.85 L 509.10 -142.70 L 510.80 -141.95 L 512.49 -158.95 L 514.18 -150.09 L 515.88 -154.78 L 517.57 -155.70 L 519.27 -147.17 L 520.96 -153.07 L 522.66 -151.87 L 524.35 -157.67 L 526.04 -162.02 L 527.74 -175.08 L 529.43 -178.04 L 531.13 -166.01 L 532.82 -156.42 L 534.52 -158.29 L 536.21 -155.44 L 537.90 -152.17 L 539.60 -131.18 L 541.29 -126.25 L 542.99 -116.33 L 544.68 -116.01 L 546.38 -112.51 L 548.07 -117.28 L 549.76 -116.12 L 551.46 -118.46 L 553.15 -110.20 L 554.85 -99.59 L 556.54 -95.14 L 558.24 -94.60 L 559.93 -97.19 L 561.62 -113.76 L 563.32 -108.75 L 565.01 -97.35 L 566.71 -92.87 L 568.40 -88.34 L 570.10 -92.12 L 571.79 -79.45 L 573.48 -81.99 L 575.18 -84.94 L 576.87 -88.04 L 578.57 -84.20 L 580.26 -84.10 L 581.96 -75.04 L 583.65 -75.40 L 585.34 -75.71 L 587.04 -83.82 L 588.73 -78.40 L 590.43 -89.52 L 592.12 -104.19 L 593.82 -88.28 L 595.51 -95.24 L 597.20 -102.99 L 598.90 -99.11 L 600.59 -98.09 L 602.29 -99.60 L 603.98 -99.82 L 605.68 -100.22 L 607.37 -90.27 L 609.06 -104.82 L 610.76 -116.22 L 612.45 -110.82 L 614.15 -101.74 L 615.84 -110.40 L 617.54 -109.20 L 619.23 -114.26 L 620.93 -115.12 L 622.62 -124.07 L 624.31 -131.55 L 626.01 -126.71 L 627.70 -118.07 L 629.40 -110.13 L 631.09 -121.49 L 632.79 -117.15 L 634.48 -119.62 L 636.17 -121.53 L 637.87 -127.91 L 639.56 -118.95 L 641.26 -129.02 L 642.95 -140.26 L 644.65 -146.30 L 646.34 -148.37 L 648.03 -153.53 L 649.73 -160.27 L 651.42 -141.21 L 653.12 -163.20 L 654.81 -168.79 L 656.51 -165.25 L 658.20 -164.61 L 659.89 -171.15 L 661.59 -171.73 L 663.28 -157.43 L 664.98 -178.11 L 666.67 -177.77 L 668.37 -186.27 L 670.06 -179.63 L 671.75 -191.59 L 673.45 -191.22 L 675.14 -193.19 L 676.84 -181.66 L 678.53 -189.87 L 680.23 -192.17 L 681.92 -198.48 L 683.61 -188.16 L 685.31 -180.81 L 687.00 -196.44 L 688.70 -182.42 L 690.39 -178.21 L 692.09 -184.60 L 693.78 -181.40 L 695.47 -182.37 L 697.17 -175.27 L 698.86 -175.40 L 700.56 -162.30 L 702.25 -174.85 L 703.95 -170.85 L 705.64 -163.10 L 707.33 -167.25 L 709.03 -161.62 L 710.72 -150.21 L 712.42 -141.02 L 714.11 -149.67 L 715.81 -149.93 L 717.50 -150.26 L 719.19 -159.81 L 720.89 -150.02 L 722.58 -145.08 L 724.28 -143.67 L 725.97 -146.11 L 727.67 -146.77 L 729.36 -145.11 L 731.05 -145.23 L 732.75 -144.65 L 734.44 -139.06 L 736.14 -133.58 L 737.83 -137.39 L 739.53 -131.05 L 741.22 -123.65 L 742.91 -124.13 L 744.61 -125.50 L 746.30 -145.06 L 748.00 -137.07 L 749.69 -142.94 L 751.39 -145.44 L 753.08 -131.67 L 754.77 -135.37 L 756.47 -122.52 L 758.16 -100.40 L 759.86 -108.01 L 761.55 -95.58 L 763.25 -102.78 L 764.94 -99.59 L 766.63 -115.14 L 768.33 -122.60 L 770.02 -116.23 L 771.72 -108.90 L 773.41 -98.66 L 775.11 -96.34 L 776.80 -95.65 L 778.49 -94.37 L 780.19 -97.34 L 781.88 -102.88 L 783.58 -105.34 L 785.27 -98.43 L 786.97 -87.57 L 788.66 -100.73 L 790.35 -95.19 L 792.05 -91.04 L 793.74 -88.81 L 795.44 -76.91 L 797.13 -78.35 L 798.83 -79.84 L 800.52 -89.92 L 802.21 -98.79 L 803.91 -100.55 L 805.60 -109.22 L 807.30 -111.49 L 808.99 -110.46 L 810.69 -110.98 L 812.38 -108.66 L 814.07 -105.29 L 815.77 -103.73 L 817.46 -96.03 L 819.16 -101.20 L 820.85 -95.79 L 822.55 -106.17 L 824.24 -106.33 L 825.94 -109.13 L 827.63 -115.17 L 829.32 -121.43 L 831.02 -109.46 L 832.71 -110.93 L 834.41 -121.01 L 836.10 -109.39 L 837.80 -116.85 L 839.49 -102.79 L 841.18 -101.89 L 842.88 -110.22 L 844.57 -104.43 L 846.27 -105.86 L 847.96 -104.09 L 849.66 -127.81 L 851.35 -135.79 L 853.04 -145.72 L 854.74 -147.81 L 856.43 -148.74 L 858.13 -139.96 L 859.82 -143.69 L 861.52 -143.45 L 863.21 -156.28 L 864.90 -168.99 L 866.60 -181.72 L 868.29 -186.97 L 869.99 -179.66 L 871.68 -169.72 L 873.38 -176.48 L 875.07 -178.69 L 876.76 -163.94 L 878.46 -168.86 L 880.15 -176.52 L 881.85 -176.80 L 883.54 -175.16 L 885.24 -169.07 L 886.93 -159.41 L 888.62 -169.45 L 890.32 -169.03 L 892.01 -169.43 L 893.71 -185.14 L 895.40 -189.41 L 897.10 -190.16 L 898.79 -188.71 L 900.48 -197.98 L 902.18 -206.50 L 903.87 -206.58 L 905.57 -203.31 L 907.26 -179.33 L 908.96 -177.17 L 910.65 -173.30 L 912.34 -171.81 L 914.04 -177.06 L 915.73 -152.43 L 917.43 -149.73 L 919.12 -154.24 L 920.82 -152.18 L 922.51 -143.22 L 924.20 -153.97 L 925.90 -157.93 L 927.59 -151.25 L 929.29 -155.82 L 930.98 -163.22 L 932.68 -162.43 L 934.37 -167.59 L 936.06 -165.60 L 937.76 -159.81 L 939.45 -148.80 L 941.15 -148.03 L 942.84 -149.26 L 944.54 -155.16 L 946.23 -151.65 L 947.92 -152.80 L 949.62 -142.12 L 951.31 -134.59 L 953.01 -133.48 L 954.70 -124.95 L 956.40 -132.47 L 958.09 -135.34 L 959.78 -135.76 L 961.48 -136.06 L 963.17 -148.83 L 964.87 -138.93 L 966.56 -116.94 L 968.26 -117.72 L 969.95 -116.09 L 971.64 -110.87 L 973.34 -102.89 L 975.03 -100.59 L 976.73 -103.48 L 978.42 -100.33 L 980.12 -120.33 L 981.81 -109.66 L 983.50 -102.14 L 985.20 -84.35 L 986.89 -89.96 L 988.59 -76.89 L 990.28 -78.16 L 991.98 -81.46 L 993.67 -80.91 L 995.36 -99.66 L 997.06 -108.74 L 998.75 -118.22 L 1000.45 -108.27 L 1002.14 -115.64 L 1003.84 -116.24 L 1005.53 -118.48 L 1007.22 -121.86 L 1008.92 -109.07 L 1010.61 -102.40 L 1012.31 -106.99 L 1014.00 -83.24 L 1015.70 -96.91 L 1017.39 -100.51 L 1019.08 -98.80 L 1020.78 -99.64 L 1022.47 -90.74 L 1024.17 -89.24 L 1025.86 -99.67 L 1027.56 -109.79 L 1029.25 -128.82 L 1030.95 -122.33 L 1032.64 -112.54 L 1034.33 -105.97 L 1036.03 -97.12 L 1037.72 -97.84 L 1037.72 -155.93 L 1037.72 -155.93 L 1036.03 -155.22 L 1034.33 -164.07 L 1032.64 -170.63 L 1030.95 -180.42 L 1029.25 -186.92 L 1027.56 -167.89 L 1025.86 -157.77 L 1024.17 -147.33 L 1022.47 -148.84 L 1020.78 -157.73 L 1019.08 -156.90 L 1017.39 -158.60 L 1015.70 -155.01 L 1014.00 -141.33 L 1012.31 -165.08 L 1010.61 -160.49 L 1008.92 -167.16 L 1007.22 -179.95 L 1005.53 -176.57 L 1003.84 -174.34 L 1002.14 -173.74 L 1000.45 -166.36 L 998.75 -176.32 L 997.06 -166.84 L 995.36 -157.76 L 993.67 -139.01 L 991.98 -139.56 L 990.28 -136.26 L 988.59 -134.99 L 986.89 -148.06 L 985.20 -142.44 L 983.50 -160.24 L 981.81 -167.76 L 980.12 -178.42 L 978.42 -158.43 L 976.73 -161.58 L 975.03 -158.68 L 973.34 -160.98 L 971.64 -168.97 L 969.95 -174.19 L 968.26 -175.81 L 966.56 -175.04 L 964.87 -197.03 L 963.17 -206.92 L 961.48 -194.16 L 959.78 -193.85 L 958.09 -193.44 L 956.40 -190.56 L 954.70 -183.04 L 953.01 -191.58 L 951.31 -192.69 L 949.62 -200.22 L 947.92 -210.89 L 946.23 -209.75 L 944.54 -213.25 L 942.84 -207.36 L 941.15 -206.12 L 939.45 -206.89 L 937.76 -217.91 L 936.06 -223.69 L 934.37 -225.69 L 932.68 -220.53 L 930.98 -221.31 L 929.29 -213.92 L 927.59 -209.35 L 925.90 -216.03 L 924.20 -212.07 L 922.51 -201.32 L 920.82 -210.28 L 919.12 -212.33 L 917.43 -207.82 L 915.73 -210.53 L 914.04 -235.16 L 912.34 -229.90 L 910.65 -231.40 L 908.96 -235.27 L 907.26 -237.42 L 905.57 -261.40 L 903.87 -264.67 L 902.18 -264.60 L 900.48 -256.08 L 898.79 -246.80 L 897.10 -248.25 L 895.40 -247.51 L 893.71 -243.23 L 892.01 -227.52 L 890.32 -227.12 L 888.62 -227.55 L 886.93 -217.51 L 885.24 -227.17 L 883.54 -233.25 L 881.85 -234.89 L 880.15 -234.61 L 878.46 -226.96 L 876.76 -222.04 L 875.07 -236.79 L 873.38 -234.58 L 871.68 -227.82 L 869.99 -237.76 L 868.29 -245.06 L 866.60 -239.81 L 864.90 -227.08 L 863.21 -214.38 L 861.52 -201.55 L 859.82 -201.78 L 858.13 -198.06 L 856.43 -206.83 L 854.74 -205.91 L 853.04 -203.82 L 851.35 -193.88 L 849.66 -185.90 L 847.96 -162.19 L 846.27 -163.96 L 844.57 -162.53 L 842.88 -168.31 L 841.18 -159.98 L 839.49 -160.89 L 837.80 -174.95 L 836.10 -167.49 L 834.41 -179.10 L 832.71 -169.03 L 831.02 -167.56 L 829.32 -179.52 L 827.63 -173.26 L 825.94 -167.23 L 824.24 -164.42 L 822.55 -164.27 L 820.85 -153.89 L 819.16 -159.30 L 817.46 -154.13 L 815.77 -161.83 L 814.07 -163.38 L 812.38 -166.76 L 810.69 -169.08 L 808.99 -168.56 L 807.30 -169.59 L 805.60 -167.32 L 803.91 -158.65 L 802.21 -156.89 L 800.52 -148.02 L 798.83 -137.94 L 797.13 -136.44 L 795.44 -135.00 L 793.74 -146.91 L 792.05 -149.14 L 790.35 -153.29 L 788.66 -158.83 L 786.97 -145.67 L 785.27 -156.53 L 783.58 -163.44 L 781.88 -160.98 L 780.19 -155.43 L 778.49 -152.46 L 776.80 -153.75 L 775.11 -154.44 L 773.41 -156.75 L 771.72 -167.00 L 770.02 -174.33 L 768.33 -180.70 L 766.63 -173.24 L 764.94 -157.69 L 763.25 -160.87 L 761.55 -153.68 L 759.86 -166.11 L 758.16 -158.50 L 756.47 -180.62 L 754.77 -193.46 L 753.08 -189.77 L 751.39 -203.53 L 749.69 -201.03 L 748.00 -195.17 L 746.30 -203.15 L 744.61 -183.59 L 742.91 -182.22 L 741.22 -181.75 L 739.53 -189.15 L 737.83 -195.48 L 736.14 -191.67 L 734.44 -197.16 L 732.75 -202.74 L 731.05 -203.33 L 729.36 -203.20 L 727.67 -204.86 L 725.97 -204.20 L 724.28 -201.77 L 722.58 -203.17 L 720.89 -208.12 L 719.19 -217.91 L 717.50 -208.36 L 715.81 -208.02 L 714.11 -207.76 L 712.42 -199.12 L 710.72 -208.31 L 709.03 -219.72 L 707.33 -225.35 L 705.64 -221.19 L 703.95 -228.95 L 702.25 -232.94 L 700.56 -220.40 L 698.86 -233.50 L 697.17 -233.37 L 695.47 -240.47 L 693.78 -239.49 L 692.09 -242.70 L 690.39 -236.31 L 688.70 -240.52 L 687.00 -254.53 L 685.31 -238.91 L 683.61 -246.25 L 681.92 -256.58 L 680.23 -250.27 L 678.53 -247.97 L 676.84 -239.75 L 675.14 -251.28 L 673.45 -249.31 L 671.75 -249.69 L 670.06 -237.73 L 668.37 -244.36 L 666.67 -235.86 L 664.98 -236.21 L 663.28 -215.52 L 661.59 -229.83 L 659.89 -229.24 L 658.20 -222.70 L 656.51 -223.35 L 654.81 -226.88 L 653.12 -221.29 L 651.42 -199.31 L 649.73 -218.36 L 648.03 -211.63 L 646.34 -206.47 L 644.65 -204.40 L 642.95 -198.36 L 641.26 -187.11 L 639.56 -177.04 L 637.87 -186.00 L 636.17 -179.62 L 634.48 -177.71 L 632.79 -175.25 L 631.09 -179.59 L 629.40 -168.22 L 627.70 -176.17 L 626.01 -184.81 L 624.31 -189.65 L 622.62 -182.17 L 620.93 -173.22 L 619.23 -172.36 L 617.54 -167.30 L 615.84 -168.50 L 614.15 -159.84 L 612.45 -168.92 L 610.76 -174.32 L 609.06 -162.92 L 607.37 -148.37 L 605.68 -158.31 L 603.98 -157.91 L 602.29 -157.70 L 600.59 -156.19 L 598.90 -157.20 L 597.20 -161.08 L 595.51 -153.34 L 593.82 -146.37 L 592.12 -162.29 L 590.43 -147.61 L 588.73 -136.50 L 587.04 -141.91 L 585.34 -133.81 L 583.65 -133.50 L 581.96 -133.13 L 580.26 -142.20 L 578.57 -142.29 L 576.87 -146.14 L 575.18 -143.04 L 573.48 -140.09 L 571.79 -137.54 L 570.10 -150.22 L 568.40 -146.44 L 566.71 -150.96 L 565.01 -155.45 L 563.32 -166.85 L 561.62 -171.85 L 559.93 -155.29 L 558.24 -152.69 L 556.54 -153.24 L 554.85 -157.69 L 553.15 -168.29 L 551.46 -176.56 L 549.76 -174.21 L 548.07 -175.37 L 546.38 -170.61 L 544.68 -174.11 L 542.99 -174.43 L 541.29 -184.35 L 539.60 -189.28 L 537.90 -210.26 L 536.21 -213.54 L 534.52 -216.39 L 532.82 -214.51 L 531.13 -224.10 L 529.43 -236.14 L 527.74 -233.18 L 526.04 -220.11 L 524.35 -215.77 L 522.66 -209.96 L 520.96 -211.17 L 519.27 -205.26 L 517.57 -213.80 L 515.88 -212.88 L 514.18 -208.19 L 512.49 -217.05 L 510.80 -200.05 L 509.10 -200.80 L 507.41 -193.95 L 505.71 -196.71 L 504.02 -205.07 L 502.32 -193.85 L 500.63 -207.72 L 498.94 -209.70 L 497.24 -219.27 L 495.55 -221.13 L 493.85 -219.67 L 492.16 -222.32 L 490.46 -227.78 L 488.77 -235.50 L 487.08 -230.40 L 485.38 -240.47 L 483.69 -248.97 L 481.99 -244.43 L 480.30 -243.56 L 478.60 -236.28 L 476.91 -232.87 L 475.22 -220.08 L 473.52 -230.85 L 471.83 -239.07 L 470.13 -231.32 L 468.44 -241.75 L 466.74 -241.90 L 465.05 -233.58 L 463.36 -213.70 L 461.66 -212.88 L 459.97 -211.80 L 458.27 -217.89 L 456.58 -225.25 L 454.88 -213.30 L 453.19 -216.24 L 451.50 -214.86 L 449.80 -220.67 L 448.11 -227.46 L 446.41 -212.26 L 444.72 -211.01 L 443.02 -213.75 L 441.33 -225.88 L 439.64 -217.56 L 437.94 -227.12 L 436.25 -221.09 L 434.55 -199.74 L 432.86 -190.58 L 431.16 -184.43 L 429.47 -174.96 L 427.78 -182.89 L 426.08 -189.77 L 424.39 -184.56 L 422.69 -184.61 L 421.00 -177.74 L 419.30 -168.95 L 417.61 -171.61 L 415.92 -169.30 L 414.22 -174.09 L 412.53 -168.98 L 410.83 -176.05 L 409.14 -174.00 L 407.44 -169.40 L 405.75 -152.82 L 404.05 -155.17 L 402.36 -156.15 L 400.67 -163.41 L 398.97 -153.41 L 397.28 -151.59 L 395.58 -163.58 L 393.89 -164.64 L 392.19 -160.99 L 390.50 -159.76 L 388.81 -166.02 L 387.11 -163.31 L 385.42 -161.50 L 383.72 -169.79 L 382.03 -158.96 L 380.33 -172.47 L 378.64 -172.02 L 376.95 -161.91 L 375.25 -152.99 L 373.56 -137.70 L 371.86 -144.94 L 370.17 -151.02 L 368.47 -135.86 L 366.78 -147.56 L 365.09 -141.54 L 363.39 -156.00 L 361.70 -174.74 L 360.00 -166.31 L 358.31 -169.79 L 356.61 -176.37 L 354.92 -167.92 L 353.23 -174.18 L 351.53 -174.69 L 349.84 -178.18 L 348.14 -175.87 L 346.45 -179.87 L 344.75 -174.36 L 343.06 -182.71 L 341.37 -178.31 L 339.67 -192.82 L 337.98 -201.43 L 336.28 -197.92 L 334.59 -185.61 L 332.89 -173.48 L 331.20 -187.27 L 329.51 -184.43 L 327.81 -176.07 L 326.12 -185.32 L 324.42 -184.49 L 322.73 -186.56 L 321.03 -191.24 L 319.34 -199.37 L 317.65 -207.05 L 315.95 -205.26 L 314.26 -218.17 L 312.56 -210.29 L 310.87 -209.45 L 309.17 -201.88 L 307.48 -198.49 L 305.79 -203.17 L 304.09 -195.32 L 302.40 -205.59 L 300.70 -206.13 L 299.01 -200.84 L 297.31 -212.50 L 295.62 -217.84 L 293.93 -219.64 L 292.23 -224.47 L 290.54 -226.99 L 288.84 -232.25 L 287.15 -229.13 L 285.45 -227.03 L 283.76 -220.51 L 282.07 -216.58 L 280.37 -222.79 L 278.68 -223.87 L 276.98 -216.37 L 275.29 -219.50 L 273.59 -216.80 L 271.90 -227.15 L 270.21 -216.81 L 268.51 -223.77 L 266.82 -224.64 L 265.12 -226.50 L 263.43 -205.01 L 261.73 -214.18 L 260.04 -223.27 L 258.35 -231.23 L 256.65 -234.00 L 254.96 -238.29 L 253.26 -228.14 L 251.57 -215.34 L 249.87 -210.20 L 248.18 -209.24 L 246.49 -224.51 L 244.79 -233.27 L 243.10 -232.00 L 241.40 -232.68 L 239.71 -220.77 L 238.01 -205.53 L 236.32 -203.94 L 234.63 -200.35 L 232.93 -211.57 L 231.24 -188.80 L 229.54 -191.55 L 227.85 -179.40 L 226.15 -167.26 L 224.46 -187.68 L 222.77 -196.54 L 221.07 -195.68 L 219.38 -201.49 L 217.68 -189.01 L 215.99 -188.11 L 214.29 -186.42 L 212.60 -189.66 L 210.91 -185.61 L 209.21 -170.57 L 207.52 -172.26 L 205.82 -171.64 L 204.13 -180.25 L 202.43 -192.75 L 200.74 -192.54 L 199.04 -217.43 L 197.35 -213.35 L 195.66 -205.29 L 193.96 -205.13 L 192.27 -207.31 z" transform="translate(0.5 596.5)" style="stroke: #1f77b4;stroke-opacity: 0.2;stroke-width: 1.38;fill: #1f77b4;fill-opacity: 0.2"/>
    </g>
   </g>
   <g id="matplotlib.axis_3">
    <g id="xtick_7">
     <g id="line2d_18">
      <g>
       <path d="M 0 0 L 0 4.86" transform="translate(192.5 530.5)" style="stroke: #000000;stroke-width: 1.11"/>
      </g>
     </g>
     <g id="text_17">
      <text style="font-size: 13.88px; font-family: 'DejaVu Sans', 'Liberation Sans', sans-serif; text-anchor: middle" x="192.27" y="551.16" transform="translate(1.20 0.09) rotate(-0 192.27 551.16)">0</text>
     </g>
    </g>
    <g id="xtick_8">
     <g id="line2d_19">
      <g>
       <path d="M 0 0 L 0 4.86" transform="translate(362.5 530.5)" style="stroke: #000000;stroke-width: 1.11"/>
      </g>
     </g>
     <g id="text_18">
      <text style="font-size: 13.88px; font-family: 'DejaVu Sans', 'Liberation Sans', sans-serif; text-anchor: middle" x="361.70" y="551.16" transform="translate(0.80 -0.01) rotate(-0 361.70 551.16)">1</text>
     </g>
    </g>
    <g id="xtick_9">
     <g id="line2d_20">
      <g>
       <path d="M 0 0 L 0 4.86" transform="translate(531.5 530.5)" style="stroke: #000000;stroke-width: 1.11"/>
      </g>
     </g>
     <g id="text_19">
      <text style="font-size: 13.88px; font-family: 'DejaVu Sans', 'Liberation Sans', sans-serif; text-anchor: middle" x="531.13" y="551.16" transform="translate(0.21 -0.01) rotate(-0 531.13 551.16)">2</text>
     </g>
    </g>
    <g id="xtick_10">
     <g id="line2d_21">
      <g>
       <path d="M 0 0 L 0 4.86" transform="translate(701.5 530.5)" style="stroke: #000000;stroke-width: 1.11"/>
      </g>
     </g>
     <g id="text_20">
      <text style="font-size: 13.88px; font-family: 'DejaVu Sans', 'Liberation Sans', sans-serif; text-anchor: middle" x="700.56" y="551.16" transform="translate(-0.18 -0.03) rotate(-0 700.56 551.16)">3</text>
     </g>
    </g>
    <g id="xtick_11">
     <g id="line2d_22">
      <g>
       <path d="M 0 0 L 0 4.86" transform="translate(870.5 530.5)" style="stroke: #000000;stroke-width: 1.11"/>
      </g>
     </g>
     <g id="text_21">
      <text style="font-size: 13.88px; font-family: 'DejaVu Sans', 'Liberation Sans', sans-serif; text-anchor: middle" x="869.99" y="551.16" transform="translate(0.50 -0.06) rotate(-0 869.99 551.16)">4</text>
     </g>
    </g>
    <g id="xtick_12">
     <g id="line2d_23">
      <g>
       <path d="M 0 0 L 0 4.86" transform="translate(1039.5 530.5)" style="stroke: #000000;stroke-width: 1.11"/>
      </g>
     </g>
     <g id="text_22">
      <text style="font-size: 13.88px; font-family: 'DejaVu Sans', 'Liberation Sans', sans-serif; text-anchor: middle" x="1039.42" y="551.16" transform="translate(-0.02 0.07) rotate(-0 1039.42 551.16)">5</text>
     </g>
    </g>
    <g id="text_23">
     <text style="font-size: 13.88px; font-family: 'DejaVu Sans', 'Liberation Sans', sans-serif; text-anchor: middle" x="615" y="570.71" transform="translate(0.25 0.08) rotate(-0 615 570.71)">Time [s]</text>
    </g>
   </g>
   <g id="matplotlib.axis_4">
    <g id="ytick_6">
     <g id="line2d_24">
      <g>
       <path d="M 0 0 L -4.86 0" transform="translate(150.5 519.5)" style="stroke: #000000;stroke-width: 1.11"/>
      </g>
     </g>
     <g id="text_24">
      <text style="font-size: 13.88px; font-family: 'DejaVu Sans', 'Liberation Sans', sans-serif; text-anchor: end" x="140.27" y="524.33" transform="translate(-0.59 -0.01) rotate(-0 140.27 524.33)">−2</text>
     </g>
    </g>
    <g id="ytick_7">
     <g id="line2d_25">
      <g>
       <path d="M 0 0 L -4.86 0" transform="translate(150.5 475.5)" style="stroke: #000000;stroke-width: 1.11"/>
      </g>
     </g>
     <g id="text_25">
      <text style="font-size: 13.88px; font-family: 'DejaVu Sans', 'Liberation Sans', sans-serif; text-anchor: end" x="140.27" y="480.95" transform="translate(-0.59 -0.02) rotate(-0 140.27 480.95)">−1</text>
     </g>
    </g>
    <g id="ytick_8">
     <g id="line2d_26">
      <g>
       <path d="M 0 0 L -4.86 0" transform="translate(150.5 432.5)" style="stroke: #000000;stroke-width: 1.11"/>
      </g>
     </g>
     <g id="text_26">
      <text style="font-size: 13.88px; font-family: 'DejaVu Sans', 'Liberation Sans', sans-serif; text-anchor: end" x="140.27" y="437.57" transform="translate(0.44 0.09) rotate(-0 140.27 437.57)">0</text>
     </g>
    </g>
    <g id="ytick_9">
     <g id="line2d_27">
      <g>
       <path d="M 0 0 L -4.86 0" transform="translate(150.5 389.5)" style="stroke: #000000;stroke-width: 1.11"/>
      </g>
     </g>
     <g id="text_27">
      <text style="font-size: 13.88px; font-family: 'DejaVu Sans', 'Liberation Sans', sans-serif; text-anchor: end" x="140.27" y="394.18" transform="translate(0.59 -0.02) rotate(-0 140.27 394.18)">1</text>
     </g>
    </g>
    <g id="ytick_10">
     <g id="line2d_28">
      <g>
       <path d="M 0 0 L -4.86 0" transform="translate(150.5 345.5)" style="stroke: #000000;stroke-width: 1.11"/>
      </g>
     </g>
     <g id="text_28">
      <text style="font-size: 13.88px; font-family: 'DejaVu Sans', 'Liberation Sans', sans-serif; text-anchor: end" x="140.27" y="350.80" transform="translate(0.46 -0.01) rotate(-0 140.27 350.80)">2</text>
     </g>
    </g>
    <g id="text_29">
     <text style="font-size: 13.88px; font-family: 'DejaVu Sans', 'Liberation Sans', sans-serif; text-anchor: middle" x="111.22" y="426.14" transform="translate(-0.99 1.19) rotate(-90 111.22 426.14)">Velocity [m/s]</text>
    </g>
   </g>
   <g id="line2d_29">
    <path d="M 192.27 432.07 L 200.74 421.33 L 205.82 415.16 L 210.91 409.38 L 214.29 405.80 L 217.68 402.48 L 221.07 399.46 L 224.46 396.76 L 227.85 394.42 L 231.24 392.45 L 234.63 390.88 L 238.01 389.72 L 241.40 388.98 L 244.79 388.68 L 248.18 388.81 L 251.57 389.37 L 254.96 390.35 L 258.35 391.76 L 261.73 393.56 L 265.12 395.75 L 268.51 398.31 L 271.90 401.20 L 275.29 404.40 L 278.68 407.87 L 283.76 413.53 L 288.84 419.60 L 295.62 428.11 L 309.17 445.25 L 314.26 451.28 L 319.34 456.88 L 322.73 460.31 L 326.12 463.46 L 329.51 466.30 L 332.89 468.79 L 336.28 470.91 L 339.67 472.65 L 343.06 473.98 L 346.45 474.89 L 349.84 475.38 L 353.23 475.43 L 356.61 475.05 L 360.00 474.24 L 363.39 473.00 L 366.78 471.36 L 370.17 469.33 L 373.56 466.92 L 376.95 464.17 L 380.33 461.09 L 383.72 457.72 L 387.11 454.10 L 392.19 448.27 L 397.28 442.07 L 405.75 431.31 L 414.22 420.60 L 419.30 414.47 L 424.39 408.74 L 427.78 405.20 L 431.16 401.93 L 434.55 398.97 L 437.94 396.33 L 441.33 394.05 L 444.72 392.15 L 448.11 390.65 L 451.50 389.56 L 454.88 388.90 L 458.27 388.67 L 461.66 388.87 L 465.05 389.51 L 468.44 390.57 L 471.83 392.04 L 475.22 393.92 L 478.60 396.17 L 481.99 398.79 L 485.38 401.74 L 488.77 404.99 L 492.16 408.51 L 497.24 414.22 L 502.32 420.33 L 509.10 428.87 L 520.96 443.90 L 526.04 450.01 L 531.13 455.71 L 534.52 459.23 L 537.90 462.47 L 541.29 465.41 L 544.68 468.02 L 548.07 470.26 L 551.46 472.13 L 554.85 473.59 L 558.24 474.64 L 561.62 475.27 L 565.01 475.46 L 568.40 475.22 L 571.79 474.55 L 575.18 473.45 L 578.57 471.94 L 581.96 470.03 L 585.34 467.74 L 588.73 465.10 L 592.12 462.12 L 595.51 458.85 L 598.90 455.31 L 603.98 449.57 L 609.06 443.44 L 615.84 434.89 L 627.70 419.87 L 632.79 413.78 L 637.87 408.10 L 641.26 404.61 L 644.65 401.39 L 648.03 398.48 L 651.42 395.90 L 654.81 393.69 L 658.20 391.86 L 661.59 390.43 L 664.98 389.42 L 668.37 388.83 L 671.75 388.67 L 675.14 388.95 L 678.53 389.66 L 681.92 390.80 L 685.31 392.34 L 688.70 394.28 L 692.09 396.61 L 695.47 399.28 L 698.86 402.28 L 702.25 405.58 L 705.64 409.15 L 710.72 414.91 L 715.81 421.06 L 724.28 431.79 L 734.44 444.63 L 739.53 450.70 L 744.61 456.34 L 748.00 459.81 L 751.39 463.01 L 754.77 465.89 L 758.16 468.44 L 761.55 470.62 L 764.94 472.41 L 768.33 473.81 L 771.72 474.78 L 775.11 475.33 L 778.49 475.45 L 781.88 475.13 L 785.27 474.39 L 788.66 473.22 L 792.05 471.64 L 795.44 469.66 L 798.83 467.31 L 802.21 464.60 L 805.60 461.57 L 808.99 458.25 L 812.38 454.66 L 817.46 448.87 L 822.55 442.70 L 831.02 431.96 L 839.49 421.23 L 844.57 415.07 L 849.66 409.29 L 853.04 405.72 L 856.43 402.41 L 859.82 399.39 L 863.21 396.70 L 866.60 394.37 L 869.99 392.41 L 873.38 390.85 L 876.76 389.70 L 880.15 388.97 L 883.54 388.68 L 886.93 388.81 L 890.32 389.38 L 893.71 390.38 L 897.10 391.79 L 900.48 393.61 L 903.87 395.81 L 907.26 398.37 L 910.65 401.27 L 914.04 404.48 L 917.43 407.96 L 922.51 413.62 L 927.59 419.70 L 934.37 428.21 L 946.23 443.27 L 951.31 449.41 L 956.40 455.16 L 959.78 458.71 L 963.17 462.00 L 966.56 464.99 L 969.95 467.65 L 973.34 469.95 L 976.73 471.87 L 980.12 473.40 L 983.50 474.51 L 986.89 475.20 L 990.28 475.46 L 993.67 475.28 L 997.06 474.68 L 1000.45 473.64 L 1003.84 472.19 L 1007.22 470.34 L 1010.61 468.11 L 1014.00 465.52 L 1017.39 462.59 L 1020.78 459.36 L 1024.17 455.85 L 1029.25 450.16 L 1034.33 444.07 L 1037.72 439.84 L 1037.72 439.84 
" clip-path="url(#p8013b4d162)" style="fill: none; stroke: #000000; stroke-width: 2.08; stroke-linecap: square"/>
   </g>
   <g id="line2d_30">
    <path d="M 192.27 432.07 L 193.96 435.00 L 195.66 435.36 L 197.35 427.50 L 199.04 423.24 L 200.74 447.54 L 202.43 446.37 L 204.13 457.64 L 205.82 464.83 L 207.52 462.73 L 209.21 462.97 L 210.91 446.55 L 212.60 441.26 L 214.29 443.41 L 215.99 440.77 L 217.68 439.08 L 219.38 425.94 L 221.07 431.21 L 222.77 429.91 L 224.46 438.43 L 226.15 458.58 L 229.54 433.92 L 231.24 436.54 L 232.93 413.69 L 234.63 424.83 L 236.32 421.19 L 238.01 419.58 L 239.71 404.31 L 241.40 392.38 L 243.10 393.05 L 244.79 391.78 L 246.49 400.53 L 248.18 415.80 L 249.87 414.84 L 251.57 409.70 L 253.26 396.90 L 254.96 386.76 L 256.65 391.04 L 258.35 393.81 L 260.04 401.77 L 263.43 420.04 L 265.12 398.54 L 266.82 400.40 L 268.51 401.27 L 270.21 408.23 L 271.90 397.89 L 273.59 408.24 L 275.29 405.54 L 276.98 408.66 L 278.68 401.16 L 280.37 402.25 L 282.07 408.45 L 283.76 404.53 L 285.45 398.00 L 287.15 395.91 L 288.84 392.79 L 290.54 398.05 L 292.23 400.57 L 293.93 405.40 L 295.62 407.20 L 297.31 412.53 L 299.01 424.20 L 300.70 418.91 L 302.40 419.45 L 304.09 429.72 L 305.79 421.86 L 307.48 426.55 L 309.17 423.16 L 310.87 415.58 L 312.56 414.75 L 314.26 406.86 L 315.95 419.77 L 317.65 417.99 L 321.03 433.80 L 322.73 438.48 L 324.42 440.54 L 326.12 439.72 L 327.81 448.97 L 329.51 440.61 L 331.20 437.77 L 332.89 451.56 L 336.28 427.11 L 337.98 423.61 L 339.67 432.22 L 341.37 446.73 L 343.06 442.33 L 344.75 450.68 L 346.45 445.17 L 348.14 449.16 L 349.84 446.86 L 351.53 450.34 L 353.23 450.86 L 354.92 457.11 L 356.61 448.66 L 358.31 455.25 L 360.00 458.73 L 361.70 450.30 L 363.39 469.04 L 365.09 483.50 L 366.78 477.48 L 368.47 489.18 L 370.17 474.02 L 371.86 480.10 L 373.56 487.34 L 375.25 472.04 L 376.95 463.13 L 378.64 453.02 L 380.33 452.57 L 382.03 466.07 L 383.72 455.25 L 385.42 463.54 L 387.11 461.73 L 388.81 459.02 L 390.50 465.28 L 392.19 464.05 L 393.89 460.40 L 395.58 461.46 L 397.28 473.44 L 398.97 471.62 L 400.67 461.63 L 402.36 468.88 L 404.05 469.87 L 405.75 472.22 L 407.44 455.64 L 409.14 451.04 L 410.83 448.99 L 412.53 456.06 L 414.22 450.95 L 415.92 455.74 L 417.61 453.42 L 419.30 456.09 L 421.00 447.30 L 422.69 440.42 L 424.39 440.48 L 426.08 435.27 L 427.78 442.15 L 429.47 450.08 L 431.16 440.61 L 432.86 434.46 L 434.55 425.30 L 436.25 403.95 L 437.94 397.92 L 439.64 407.48 L 441.33 399.16 L 443.02 411.29 L 444.72 414.03 L 446.41 412.78 L 448.11 397.58 L 449.80 404.37 L 451.50 410.17 L 453.19 408.80 L 454.88 411.73 L 456.58 399.78 L 458.27 407.15 L 459.97 413.23 L 461.66 412.15 L 463.36 411.34 L 465.05 391.46 L 466.74 383.13 L 468.44 383.28 L 470.13 393.72 L 471.83 385.97 L 473.52 394.18 L 475.22 404.96 L 476.91 392.17 L 478.60 388.76 L 480.30 381.47 L 481.99 380.61 L 483.69 376.07 L 485.38 384.57 L 487.08 394.64 L 488.77 389.54 L 490.46 397.26 L 492.16 402.72 L 493.85 405.37 L 495.55 403.91 L 497.24 405.77 L 498.94 415.33 L 500.63 417.32 L 502.32 431.18 L 504.02 419.97 L 505.71 428.33 L 507.41 431.09 L 509.10 424.24 L 510.80 424.99 L 512.49 407.99 L 514.18 416.85 L 515.88 412.16 L 517.57 411.24 L 519.27 419.78 L 520.96 413.87 L 522.66 415.07 L 524.35 409.27 L 526.04 404.92 L 527.74 391.86 L 529.43 388.90 L 531.13 400.93 L 532.82 410.53 L 534.52 408.65 L 536.21 411.50 L 537.90 414.78 L 539.60 435.76 L 541.29 440.69 L 542.99 450.61 L 544.68 450.93 L 546.38 454.43 L 548.07 449.67 L 549.76 450.83 L 551.46 448.48 L 553.15 456.74 L 554.85 467.35 L 556.54 471.80 L 558.24 472.35 L 559.93 469.75 L 561.62 453.18 L 563.32 458.19 L 565.01 469.59 L 568.40 478.60 L 570.10 474.82 L 571.79 487.50 L 573.48 484.95 L 576.87 478.90 L 578.57 482.74 L 580.26 482.84 L 581.96 491.91 L 585.34 491.23 L 587.04 483.12 L 588.73 488.54 L 590.43 477.42 L 592.12 462.75 L 593.82 478.67 L 595.51 471.70 L 597.20 463.95 L 598.90 467.84 L 600.59 468.85 L 602.29 467.34 L 603.98 467.12 L 605.68 466.73 L 607.37 476.67 L 609.06 462.12 L 610.76 450.72 L 612.45 456.12 L 614.15 465.20 L 615.84 456.54 L 617.54 457.74 L 619.23 452.68 L 620.93 451.82 L 622.62 442.87 L 624.31 435.39 L 626.01 440.23 L 627.70 448.87 L 629.40 456.81 L 631.09 445.45 L 632.79 449.79 L 634.48 447.33 L 636.17 445.42 L 637.87 439.03 L 639.56 447.99 L 641.26 437.93 L 642.95 426.68 L 644.65 420.64 L 646.34 418.57 L 648.03 413.41 L 649.73 406.68 L 651.42 425.73 L 653.12 403.75 L 654.81 398.15 L 656.51 401.69 L 658.20 402.33 L 659.89 395.79 L 661.59 395.21 L 663.28 409.52 L 664.98 388.83 L 666.67 389.17 L 668.37 380.68 L 670.06 387.31 L 671.75 375.35 L 673.45 375.73 L 675.14 373.76 L 676.84 385.29 L 678.53 377.07 L 680.23 374.77 L 681.92 368.46 L 683.61 378.79 L 685.31 386.13 L 687.00 370.51 L 688.70 384.52 L 690.39 388.73 L 692.09 382.34 L 693.78 385.55 L 695.47 384.57 L 697.17 391.67 L 698.86 391.54 L 700.56 404.64 L 702.25 392.10 L 703.95 396.09 L 705.64 403.84 L 707.33 399.69 L 709.03 405.32 L 710.72 416.73 L 712.42 425.92 L 714.11 417.28 L 717.50 416.68 L 719.19 407.13 L 720.89 416.92 L 722.58 421.86 L 724.28 423.27 L 725.97 420.83 L 727.67 420.18 L 729.36 421.84 L 731.05 421.71 L 732.75 422.30 L 736.14 433.37 L 737.83 429.55 L 739.53 435.89 L 741.22 443.29 L 742.91 442.82 L 744.61 441.45 L 746.30 421.89 L 748.00 429.87 L 749.69 424.01 L 751.39 421.51 L 753.08 435.27 L 754.77 431.58 L 756.47 444.42 L 758.16 466.54 L 759.86 458.93 L 761.55 471.36 L 763.25 464.16 L 764.94 467.35 L 766.63 451.80 L 768.33 444.34 L 770.02 450.71 L 771.72 458.04 L 773.41 468.29 L 775.11 470.60 L 776.80 471.29 L 778.49 472.57 L 780.19 469.60 L 781.88 464.06 L 783.58 461.60 L 785.27 468.51 L 786.97 479.37 L 788.66 466.21 L 790.35 471.75 L 792.05 475.90 L 793.74 478.13 L 795.44 490.03 L 798.83 487.10 L 800.52 477.02 L 802.21 468.15 L 803.91 466.39 L 805.60 457.72 L 807.30 455.45 L 808.99 456.48 L 810.69 455.96 L 812.38 458.28 L 814.07 461.66 L 815.77 463.21 L 817.46 470.91 L 819.16 465.74 L 820.85 471.15 L 822.55 460.77 L 824.24 460.61 L 825.94 457.81 L 829.32 445.51 L 831.02 457.48 L 832.71 456.01 L 834.41 445.93 L 836.10 457.55 L 837.80 450.09 L 839.49 464.15 L 841.18 465.05 L 842.88 456.73 L 844.57 462.51 L 846.27 461.08 L 847.96 462.85 L 849.66 439.14 L 851.35 431.15 L 853.04 421.22 L 854.74 419.13 L 856.43 418.21 L 858.13 426.98 L 859.82 423.25 L 861.52 423.49 L 866.60 385.23 L 868.29 379.98 L 869.99 387.28 L 871.68 397.22 L 873.38 390.46 L 875.07 388.25 L 876.76 403.00 L 878.46 398.08 L 880.15 390.43 L 881.85 390.14 L 883.54 391.78 L 885.24 397.87 L 886.93 407.53 L 888.62 397.49 L 890.32 397.91 L 892.01 397.52 L 893.71 381.81 L 895.40 377.53 L 897.10 376.79 L 898.79 378.23 L 900.48 368.96 L 902.18 360.44 L 903.87 360.36 L 905.57 363.63 L 907.26 387.61 L 908.96 389.77 L 910.65 393.64 L 912.34 395.14 L 914.04 389.88 L 915.73 414.51 L 917.43 417.22 L 919.12 412.70 L 920.82 414.76 L 922.51 423.72 L 924.20 412.97 L 925.90 409.01 L 927.59 415.69 L 929.29 411.12 L 930.98 403.72 L 932.68 404.51 L 934.37 399.35 L 936.06 401.34 L 937.76 407.13 L 939.45 418.14 L 941.15 418.92 L 942.84 417.68 L 944.54 411.79 L 946.23 415.29 L 947.92 414.15 L 949.62 424.82 L 951.31 432.35 L 953.01 433.46 L 954.70 442.00 L 956.40 434.47 L 958.09 431.60 L 961.48 430.88 L 963.17 418.12 L 964.87 428.01 L 966.56 450.00 L 968.26 449.22 L 969.95 450.85 L 971.64 456.07 L 973.34 464.05 L 975.03 466.35 L 976.73 463.46 L 978.42 466.61 L 980.12 446.62 L 981.81 457.28 L 983.50 464.80 L 985.20 482.60 L 986.89 476.98 L 988.59 490.05 L 990.28 488.78 L 991.98 485.48 L 993.67 486.03 L 995.36 467.28 L 998.75 448.72 L 1000.45 458.67 L 1002.14 451.30 L 1003.84 450.70 L 1005.53 448.46 L 1007.22 445.09 L 1008.92 457.87 L 1010.61 464.54 L 1012.31 459.96 L 1014.00 483.71 L 1015.70 470.03 L 1017.39 466.43 L 1019.08 468.14 L 1020.78 467.31 L 1022.47 476.20 L 1024.17 477.71 L 1027.56 457.15 L 1029.25 438.12 L 1030.95 444.62 L 1032.64 454.41 L 1034.33 460.97 L 1036.03 469.82 L 1037.72 469.11 L 1037.72 469.11 
" clip-path="url(#p8013b4d162)" style="fill: none; stroke: #1f77b4; stroke-width: 2.08; stroke-linecap: square"/>
   </g>
   <g id="patch_9">
    <path d="M 150.5 530.5 L 150.5 322.5" style="fill: none; stroke: #000000; stroke-width: 1.11; stroke-linejoin: miter; stroke-linecap: square"/>
   </g>
   <g id="patch_10">
    <path d="M 1080.5 530.5 L 1080.5 322.5" style="fill: none; stroke: #000000; stroke-width: 1.11; stroke-linejoin: miter; stroke-linecap: square"/>
   </g>
   <g id="patch_11">
    <path d="M 150.5 530.5 L 1080.5 530.5" style="fill: none; stroke: #000000; stroke-width: 1.11; stroke-linejoin: miter; stroke-linecap: square"/>
   </g>
   <g id="patch_12">
    <path d="M 150.5 322.5 L 1080.5 322.5" style="fill: none; stroke: #000000; stroke-width: 1.11; stroke-linejoin: miter; stroke-linecap: square"/>
   </g>
   <g id="legend_2">
    <g id="patch_13">
     <path d="M 952.5 375.5 L 1070.5 375.5 Q 1073.5 375.5 1073.5 372.5 L 1073.5 332.5 Q 1073.5 329.5 1070.5 329.5 L 952.5 329.5 Q 949.5 329.5 949.5 332.5 L 949.5 372.5 Q 949.5 375.5 952.5 375.5 z
" style="fill: #ffffff; opacity: 0.8; stroke: #cccccc; stroke-width: 1.38; stroke-linejoin: miter"/>
    </g>
    <g id="line2d_31">
     <path d="M 955.0 340.0 L 982.0 340.0" style="fill: none; stroke: #000000; stroke-width: 2.08; stroke-linecap: square"/>
    </g>
    <g id="text_30">
     <text style="font-size: 13.88px; font-family: 'DejaVu Sans', 'Liberation Sans', sans-serif; text-anchor: start" x="993.5" y="345.34" transform="translate(-0.38 0.05) rotate(-0 993.5 345.34)">Simulation</text>
    </g>
    <g id="line2d_32">
     <path d="M 955.0 361.0 L 982.0 361.0" style="fill: none; stroke: #1f77b4; stroke-width: 2.08; stroke-linecap: square"/>
    </g>
    <g id="text_31">
     <text style="font-size: 13.88px; font-family: 'DejaVu Sans', 'Liberation Sans', sans-serif; text-anchor: start" x="993.5" y="366.28" transform="translate(0.40 0.03) rotate(-0 993.5 366.28)">KF</text>
    </g>
   </g>
  </g>
 </g>
 <defs>
  <clipPath id="pb499dece62">
   <rect x="150" y="71.52" width="930" height="208.6"/>
  </clipPath>
  <clipPath id="p8013b4d162">
   <rect x="150" y="321.84" width="930" height="208.6"/>
  </clipPath>
 </defs>
</svg>

</body></html>
